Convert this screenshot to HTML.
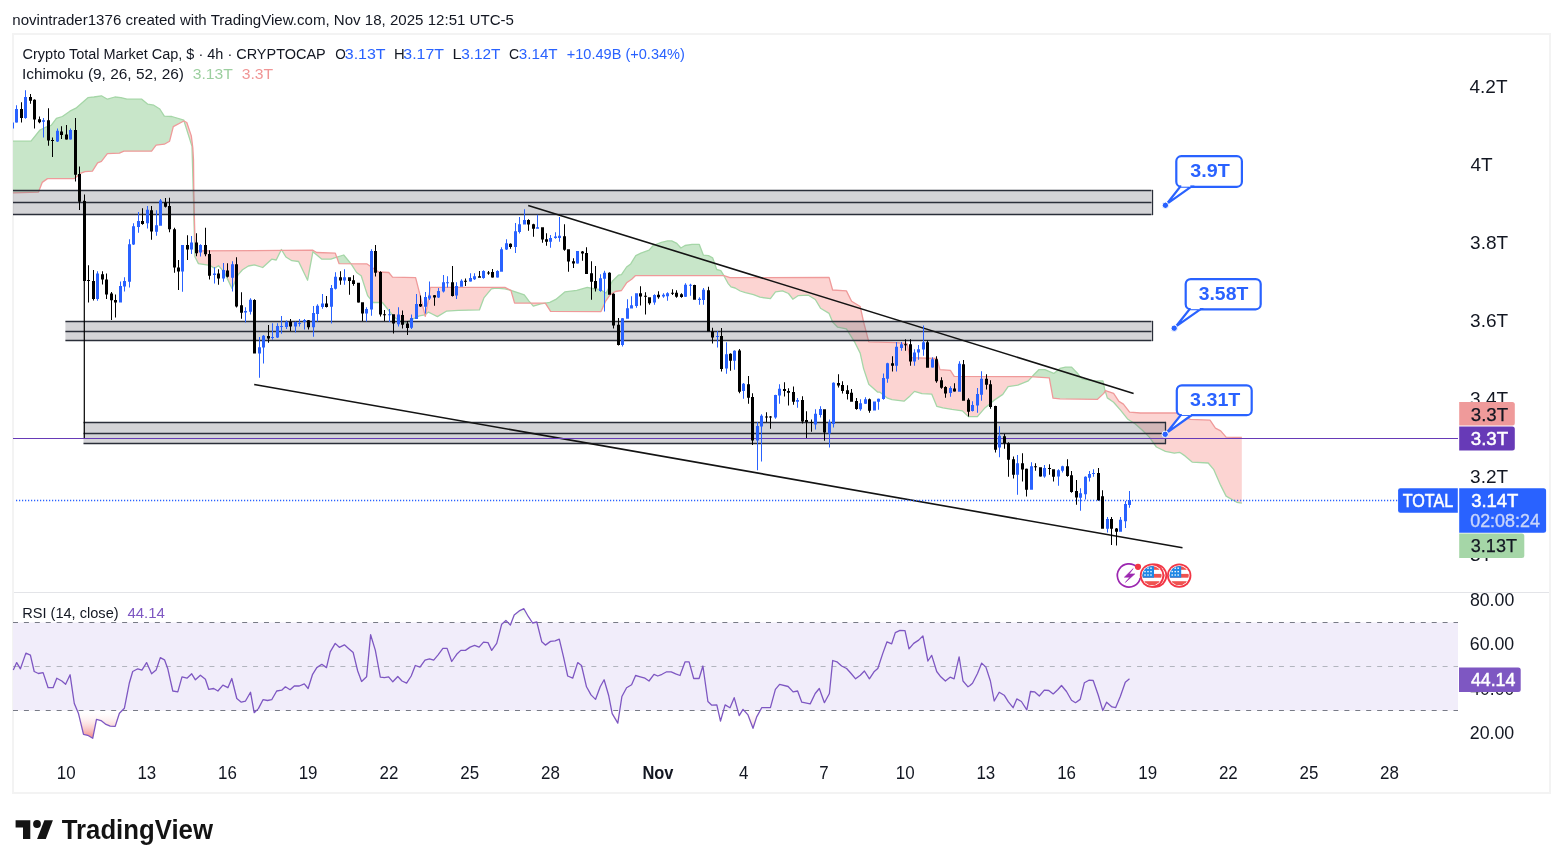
<!DOCTYPE html>
<html><head><meta charset="utf-8"><title>TradingView chart</title>
<style>html,body{margin:0;padding:0;background:#fff;width:1563px;height:868px;overflow:hidden}</style>
</head><body>
<svg width="1563" height="868" viewBox="0 0 1563 868" style="position:absolute;left:0;top:0;will-change:transform">
<rect width="1563" height="868" fill="#ffffff"/>
<text x="12.32" y="24.9" font-family='"Liberation Sans", sans-serif' font-size="15.5" font-weight="normal" fill="#131722" textLength="501.67" lengthAdjust="spacingAndGlyphs">novintrader1376 created with TradingView.com, Nov 18, 2025 12:51 UTC-5</text>
<rect x="13" y="34" width="1537" height="759" fill="none" stroke="#f3f3f3" stroke-width="2"/>
<defs><clipPath id="pane"><rect x="13" y="35" width="1445" height="557"/></clipPath></defs>
<g clip-path="url(#pane)">
<path fill="#c8e6c9" d="M13.00,141.20L13.50,141.20L14.00,141.20L14.50,141.20L15.00,141.20L15.50,141.20L16.00,141.20L16.50,141.20L17.00,141.20L17.50,141.20L18.00,141.20L18.50,141.20L19.00,141.20L19.50,141.20L20.00,141.20L20.50,141.20L21.00,141.20L21.50,141.20L22.00,141.20L22.50,141.20L23.00,141.20L23.50,141.20L24.00,141.20L24.50,141.20L25.00,141.20L25.50,141.20L26.00,141.20L26.50,141.20L27.00,141.20L27.50,141.20L28.00,141.20L28.50,141.20L29.00,141.20L29.50,141.20L30.00,141.20L30.50,141.20L31.00,141.20L31.50,140.58L32.00,139.96L32.50,139.33L33.00,138.71L33.50,138.09L34.00,137.47L34.50,136.84L35.00,136.22L35.50,135.60L36.00,134.98L36.50,134.36L37.00,133.73L37.50,133.11L38.00,132.49L38.50,131.87L39.00,131.24L39.50,130.62L40.00,130.00L40.50,129.77L41.00,129.53L41.50,129.30L42.00,129.07L42.20,128.97L42.50,128.83L43.00,128.60L43.50,128.37L44.00,128.13L44.50,127.90L45.00,127.67L45.50,127.43L46.00,127.20L46.50,127.03L47.00,126.85L47.50,126.68L48.00,126.51L48.50,126.33L49.00,126.16L49.50,125.99L50.00,125.82L50.50,125.64L51.00,125.47L51.20,125.40L51.50,124.99L52.00,124.31L52.50,123.62L53.00,122.94L53.50,122.26L54.00,121.58L54.50,120.89L55.00,120.21L55.50,119.53L56.00,118.85L56.40,118.30L56.50,118.27L57.00,118.12L57.50,117.97L58.00,117.82L58.50,117.67L59.00,117.52L59.50,117.37L60.00,117.22L60.50,117.07L61.00,116.92L61.50,116.77L62.00,116.62L62.40,116.50L62.50,116.43L63.00,116.08L63.50,115.72L64.00,115.37L64.50,115.02L65.00,114.66L65.50,114.31L66.00,113.96L66.50,113.60L67.00,113.25L67.50,112.90L68.00,112.54L68.50,112.19L69.00,111.84L69.50,111.48L69.90,111.20L70.00,111.15L70.50,110.90L71.00,110.65L71.50,110.40L72.00,110.15L72.50,109.90L73.00,109.65L73.50,109.40L74.00,109.15L74.40,108.95L74.50,108.90L75.00,108.65L75.50,108.40L75.90,108.20L76.00,108.11L76.50,107.68L77.00,107.24L77.50,106.80L78.00,106.36L78.50,105.93L79.00,105.49L79.50,105.05L80.00,104.61L80.40,104.26L80.50,104.18L81.00,103.74L81.50,103.30L82.00,102.86L82.50,102.43L83.00,101.99L83.50,101.55L84.00,101.11L84.50,100.68L84.90,100.33L85.00,100.24L85.50,99.80L86.00,99.36L86.50,98.93L87.00,98.49L87.50,98.05L87.90,97.70L88.00,97.69L88.50,97.63L89.00,97.57L89.50,97.51L90.00,97.45L90.50,97.40L91.00,97.34L91.50,97.28L92.00,97.22L92.40,97.17L92.50,97.16L93.00,97.11L93.50,97.05L93.90,97.00L94.00,96.98L94.50,96.90L95.00,96.82L95.50,96.74L96.00,96.66L96.50,96.58L97.00,96.50L97.50,96.42L97.60,96.41L98.00,96.34L98.50,96.26L99.00,96.18L99.50,96.10L100.00,96.02L100.50,95.94L101.00,95.86L101.40,95.80L101.50,95.86L102.00,96.14L102.50,96.42L103.00,96.71L103.50,96.99L104.00,97.27L104.50,97.56L105.00,97.84L105.50,98.12L106.00,98.41L106.50,98.69L107.00,98.97L107.40,99.20L107.50,99.17L108.00,99.02L108.50,98.88L109.00,98.73L109.50,98.58L110.00,98.44L110.50,98.29L111.00,98.14L111.50,98.00L112.00,97.85L112.50,97.70L113.00,97.56L113.50,97.41L114.00,97.26L114.50,97.12L114.90,97.00L115.00,97.01L115.50,97.07L116.00,97.13L116.50,97.19L117.00,97.25L117.50,97.30L118.00,97.36L118.50,97.42L119.00,97.48L119.40,97.53L119.50,97.54L120.00,97.59L120.50,97.65L120.90,97.70L121.00,97.72L121.50,97.85L122.00,97.97L122.50,98.10L123.00,98.22L123.50,98.35L123.90,98.45L124.00,98.47L124.50,98.60L125.00,98.72L125.50,98.85L126.00,98.97L126.50,99.10L126.90,99.20L127.00,99.20L127.50,99.20L128.00,99.20L128.50,99.20L129.00,99.20L129.50,99.20L130.00,99.20L130.50,99.20L131.00,99.20L131.50,99.20L132.00,99.20L132.50,99.20L133.00,99.20L133.50,99.20L134.00,99.20L134.50,99.20L135.00,99.20L135.50,99.20L136.00,99.20L136.50,99.20L137.00,99.20L137.50,99.20L138.00,99.20L138.50,99.20L139.00,99.20L139.50,99.20L140.00,99.20L140.50,99.20L141.00,99.20L141.50,99.20L141.80,99.20L142.00,99.37L142.50,99.78L143.00,100.20L143.50,100.62L144.00,101.03L144.50,101.45L145.00,101.87L145.50,102.28L146.00,102.70L146.50,103.12L147.00,103.53L147.50,103.95L147.80,104.20L148.00,104.23L148.50,104.32L149.00,104.40L149.50,104.48L150.00,104.57L150.50,104.65L151.00,104.73L151.50,104.82L151.60,104.83L152.00,104.90L152.50,104.98L153.00,105.07L153.50,105.15L153.80,105.20L154.00,105.33L154.50,105.64L155.00,105.96L155.50,106.28L156.00,106.59L156.10,106.66L156.50,106.91L157.00,107.23L157.50,107.54L158.00,107.86L158.50,108.18L159.00,108.49L159.50,108.81L159.80,109.00L160.00,109.32L160.50,110.12L161.00,110.92L161.50,111.72L162.00,112.52L162.50,113.32L163.00,114.12L163.50,114.92L164.00,115.72L164.30,116.20L164.50,116.21L165.00,116.23L165.50,116.25L166.00,116.27L166.50,116.29L167.00,116.31L167.50,116.33L168.00,116.35L168.50,116.37L169.00,116.39L169.50,116.41L169.60,116.41L170.00,116.43L170.50,116.45L171.00,116.47L171.50,116.49L171.80,116.50L172.00,116.56L172.50,116.72L173.00,116.87L173.30,116.96L173.50,117.02L174.00,117.18L174.50,117.33L175.00,117.49L175.50,117.64L176.00,117.80L176.50,117.95L177.00,118.10L177.50,118.26L178.00,118.41L178.50,118.57L179.00,118.72L179.50,118.87L180.00,119.03L180.50,119.18L181.00,119.34L181.50,119.49L182.00,119.64L182.50,119.80L183.00,119.95L183.50,120.11L183.80,120.20L184.00,120.84L184.10,121.15L184.10,121.15L184.00,121.10L183.80,121.00L183.50,121.16L183.00,121.43L182.50,121.69L182.00,121.96L181.50,122.23L181.00,122.49L180.50,122.76L180.00,123.03L179.50,123.29L179.00,123.56L178.50,123.83L178.00,124.09L177.50,124.36L177.00,124.63L176.50,124.89L176.00,125.16L175.50,125.43L175.00,125.69L174.50,125.96L174.00,126.23L173.50,126.49L173.30,126.60L173.00,127.78L172.50,129.76L172.00,131.73L171.80,132.52L171.50,133.70L171.00,135.68L170.50,137.65L170.00,139.62L169.60,141.20L169.50,141.26L169.00,141.54L168.50,141.82L168.00,142.11L167.50,142.39L167.00,142.67L166.50,142.95L166.00,143.24L165.50,143.52L165.00,143.80L164.50,144.09L164.30,144.20L164.00,144.24L163.50,144.30L163.00,144.36L162.50,144.42L162.00,144.48L161.50,144.54L161.00,144.60L160.50,144.66L160.00,144.72L159.80,144.75L159.50,144.79L159.00,144.85L158.50,144.91L158.00,144.97L157.50,145.03L157.00,145.09L156.50,145.15L156.10,145.20L156.00,145.33L155.50,146.00L155.00,146.67L154.50,147.33L154.00,148.00L153.80,148.27L153.50,148.67L153.00,149.33L152.50,150.00L152.00,150.67L151.60,151.20L151.50,151.20L151.00,151.20L150.50,151.20L150.00,151.20L149.50,151.20L149.00,151.20L148.50,151.20L148.00,151.20L147.80,151.20L147.50,151.20L147.00,151.20L146.50,151.20L146.00,151.20L145.50,151.20L145.00,151.20L144.50,151.20L144.00,151.20L143.50,151.20L143.00,151.20L142.50,151.20L142.00,151.20L141.80,151.20L141.50,151.20L141.00,151.20L140.50,151.20L140.00,151.20L139.50,151.20L139.00,151.20L138.50,151.20L138.00,151.20L137.50,151.20L137.00,151.20L136.50,151.20L136.00,151.20L135.50,151.20L135.00,151.20L134.50,151.20L134.00,151.20L133.50,151.20L133.00,151.20L132.50,151.20L132.00,151.20L131.50,151.20L131.00,151.20L130.50,151.20L130.00,151.20L129.50,151.20L129.00,151.20L128.50,151.20L128.00,151.20L127.50,151.20L127.00,151.20L126.90,151.20L126.50,151.20L126.00,151.20L125.50,151.20L125.00,151.20L124.50,151.20L124.00,151.20L123.90,151.20L123.50,151.38L123.00,151.60L122.50,151.82L122.00,152.04L121.50,152.27L121.00,152.49L120.90,152.53L120.50,152.71L120.00,152.93L119.50,153.16L119.40,153.20L119.00,153.21L118.50,153.23L118.00,153.25L117.50,153.26L117.00,153.28L116.50,153.30L116.00,153.31L115.50,153.33L115.00,153.35L114.90,153.35L114.50,153.36L114.00,153.38L113.50,153.40L113.00,153.41L112.50,153.43L112.00,153.45L111.50,153.46L111.00,153.48L110.50,153.50L110.00,153.51L109.50,153.53L109.00,153.55L108.50,153.56L108.00,153.58L107.50,153.60L107.40,153.60L107.00,154.12L106.50,154.77L106.00,155.42L105.50,156.07L105.00,156.72L104.50,157.37L104.00,158.02L103.50,158.67L103.00,159.32L102.50,159.97L102.00,160.62L101.50,161.27L101.40,161.40L101.00,161.56L100.50,161.76L100.00,161.95L99.50,162.15L99.00,162.35L98.50,162.54L98.00,162.74L97.60,162.90L97.50,163.06L97.00,163.85L96.50,164.63L96.00,165.42L95.50,166.21L95.00,167.00L94.50,167.79L94.00,168.58L93.90,168.73L93.50,169.37L93.00,170.15L92.50,170.94L92.40,171.10L92.00,171.13L91.50,171.16L91.00,171.19L90.50,171.23L90.00,171.26L89.50,171.29L89.00,171.33L88.50,171.36L88.00,171.39L87.90,171.40L87.50,171.43L87.00,171.46L86.50,171.49L86.00,171.53L85.50,171.56L85.00,171.59L84.90,171.60L84.50,171.76L84.00,171.96L83.50,172.16L83.00,172.36L82.50,172.56L82.00,172.76L81.50,172.96L81.00,173.16L80.50,173.36L80.40,173.40L80.00,173.75L79.50,174.18L79.00,174.61L78.50,175.05L78.00,175.48L77.50,175.91L77.00,176.35L76.50,176.78L76.00,177.21L75.90,177.30L75.50,177.65L75.00,178.08L74.50,178.51L74.40,178.60L74.00,178.60L73.50,178.60L73.00,178.60L72.50,178.60L72.00,178.60L71.50,178.60L71.00,178.60L70.50,178.60L70.00,178.60L69.90,178.60L69.50,178.60L69.00,178.60L68.50,178.60L68.00,178.60L67.50,178.60L67.00,178.60L66.50,178.60L66.00,178.60L65.50,178.60L65.00,178.60L64.50,178.60L64.00,178.60L63.50,178.60L63.00,178.60L62.50,178.60L62.40,178.60L62.00,178.60L61.50,178.60L61.00,178.60L60.50,178.60L60.00,178.60L59.50,178.60L59.00,178.60L58.50,178.60L58.00,178.60L57.50,178.60L57.00,178.60L56.50,178.60L56.40,178.60L56.00,178.60L55.50,178.60L55.00,178.60L54.50,178.60L54.00,178.60L53.50,178.60L53.00,178.60L52.50,178.60L52.00,178.60L51.50,178.60L51.20,178.60L51.00,178.60L50.50,178.60L50.00,178.60L49.50,178.60L49.00,178.60L48.50,178.60L48.00,178.60L47.50,178.60L47.00,178.96L46.50,179.32L46.00,179.68L45.50,180.03L45.00,180.39L44.50,180.75L44.00,181.11L43.50,181.47L43.00,181.83L42.50,182.18L42.20,182.40L42.00,182.92L41.50,184.24L41.00,185.55L40.50,186.86L40.00,188.17L39.50,189.48L39.00,190.79L38.50,192.10L38.00,192.12L37.50,192.13L37.00,192.15L36.50,192.16L36.00,192.18L35.50,192.19L35.00,192.21L34.50,192.23L34.00,192.24L33.50,192.26L33.00,192.27L32.50,192.29L32.00,192.30L31.50,192.32L31.00,192.34L30.50,192.35L30.00,192.37L29.50,192.38L29.00,192.40L28.50,192.41L28.00,192.43L27.50,192.45L27.00,192.46L26.50,192.48L26.00,192.49L25.50,192.51L25.00,192.52L24.50,192.54L24.00,192.55L23.50,192.57L23.00,192.59L22.50,192.60L22.00,192.62L21.50,192.63L21.00,192.65L20.50,192.66L20.00,192.68L19.50,192.70L19.00,192.71L18.50,192.73L18.00,192.74L17.50,192.76L17.00,192.77L16.50,192.79L16.00,192.81L15.50,192.82L15.00,192.84L14.50,192.85L14.00,192.87L13.50,192.88L13.00,192.90ZM280.96,250.39L281.00,250.31L281.40,249.50L281.50,249.67L281.93,250.39L281.93,250.39L281.50,250.39L281.40,250.39L281.00,250.39L280.96,250.39ZM336.76,257.23L337.00,257.15L337.50,256.99L338.00,256.83L338.50,256.67L339.00,256.51L339.10,256.48L339.50,256.35L340.00,256.19L340.50,256.03L341.00,255.87L341.50,255.71L342.00,255.55L342.50,255.39L343.00,255.22L343.50,255.06L343.70,255.00L344.00,255.36L344.50,255.95L345.00,256.55L345.50,257.14L346.00,257.74L346.50,258.33L347.00,258.92L347.50,259.52L348.00,260.11L348.50,260.71L349.00,261.30L349.50,261.90L350.00,262.49L350.50,263.09L351.00,263.68L351.05,263.74L351.05,263.74L351.00,263.74L350.50,263.74L350.00,263.74L349.50,263.74L349.00,263.74L348.50,263.73L348.00,263.73L347.50,263.73L347.00,263.73L346.50,263.73L346.00,263.72L345.50,263.72L345.00,263.72L344.50,263.72L344.00,263.72L343.70,263.72L343.50,263.72L343.00,263.71L342.50,263.71L342.00,263.71L341.50,263.71L341.00,263.71L340.50,263.71L340.00,263.70L339.50,263.70L339.10,263.70L339.00,263.42L338.50,262.04L338.00,260.66L337.50,259.28L337.00,257.90L336.76,257.23ZM424.93,314.80L425.00,314.75L425.30,314.52L425.50,314.37L425.69,314.23L425.69,314.23L425.50,315.23L425.30,316.30L425.00,315.08L424.93,314.80ZM510.90,290.40L510.90,290.40L511.00,290.43L511.50,290.60L512.00,290.77L512.50,290.93L513.00,291.10L513.50,291.27L514.00,291.43L514.50,291.60L514.60,291.63L515.00,291.77L515.50,291.93L516.00,292.10L516.50,292.27L517.00,292.43L517.50,292.60L518.00,292.77L518.50,292.93L519.00,293.10L519.50,293.27L519.90,293.40L520.00,293.43L520.50,293.60L521.00,293.77L521.50,293.95L522.00,294.12L522.50,294.29L523.00,294.46L523.50,294.63L524.00,294.80L524.30,294.90L524.50,295.17L525.00,295.83L525.50,296.50L526.00,297.17L526.50,297.83L527.00,298.50L527.50,299.17L528.00,299.83L528.50,300.50L528.80,300.90L529.00,301.13L529.50,301.71L530.00,302.29L530.50,302.86L530.70,303.10L530.70,303.10L530.50,303.10L530.00,303.10L529.50,303.10L529.00,303.10L528.80,303.10L528.50,303.10L528.00,303.10L527.50,303.10L527.00,303.10L526.50,303.10L526.00,303.10L525.50,303.10L525.00,303.10L524.50,303.10L524.30,303.10L524.00,303.10L523.50,303.10L523.00,303.10L522.50,303.10L522.00,303.10L521.50,303.10L521.00,303.10L520.50,303.10L520.00,303.10L519.90,303.10L519.50,303.10L519.00,303.10L518.50,303.10L518.00,303.10L517.50,303.10L517.00,303.10L516.50,303.10L516.00,303.10L515.50,303.10L515.00,303.10L514.60,303.10L514.50,302.76L514.00,301.04L513.50,299.32L513.00,297.61L512.50,295.89L512.00,294.18L511.50,292.46L511.00,290.74L510.90,290.40L510.90,290.40ZM545.33,303.15L545.50,303.12L546.00,303.03L546.50,302.95L547.00,302.87L547.50,302.78L548.00,302.70L548.50,302.62L549.00,302.53L549.50,302.45L549.80,302.40L550.00,302.30L550.50,302.05L550.60,302.00L551.00,301.80L551.50,301.55L552.00,301.30L552.50,301.05L553.00,300.80L553.50,300.55L554.00,300.30L554.50,300.05L555.00,299.80L555.50,299.55L555.80,299.40L556.00,299.23L556.50,298.82L557.00,298.40L557.50,297.98L558.00,297.57L558.50,297.15L559.00,296.73L559.50,296.32L560.00,295.90L560.50,295.48L561.00,295.07L561.50,294.65L562.00,294.23L562.50,293.82L563.00,293.40L563.50,292.98L564.00,292.57L564.50,292.15L564.80,291.90L565.00,291.88L565.50,291.81L566.00,291.75L566.50,291.69L567.00,291.62L567.50,291.56L568.00,291.50L568.50,291.44L569.00,291.38L569.50,291.31L570.00,291.25L570.50,291.19L571.00,291.12L571.50,291.06L572.00,291.00L572.50,290.94L573.00,290.88L573.50,290.81L574.00,290.75L574.50,290.69L575.00,290.62L575.50,290.56L576.00,290.50L576.50,290.44L576.80,290.40L577.00,290.34L577.50,290.20L578.00,290.06L578.50,289.91L579.00,289.77L579.50,289.63L580.00,289.49L580.50,289.34L581.00,289.20L581.50,289.06L582.00,288.91L582.50,288.77L583.00,288.63L583.50,288.49L584.00,288.34L584.50,288.20L585.00,288.06L585.50,287.91L586.00,287.77L586.50,287.63L587.00,287.49L587.30,287.40L587.50,287.44L588.00,287.55L588.50,287.65L589.00,287.75L589.50,287.86L590.00,287.96L590.50,288.06L591.00,288.17L591.50,288.27L592.00,288.38L592.50,288.48L593.00,288.58L593.50,288.69L594.00,288.79L594.50,288.90L595.00,289.00L595.50,289.05L596.00,289.10L596.50,289.15L597.00,289.20L597.50,289.25L598.00,289.30L598.50,289.35L599.00,289.40L599.50,289.45L600.00,289.50L600.50,289.80L601.00,290.09L601.50,290.39L602.00,290.68L602.50,290.98L603.00,291.27L603.50,291.57L604.00,291.86L604.50,292.16L605.00,292.45L605.50,292.75L606.00,293.04L606.10,293.10L606.50,292.34L607.00,291.39L607.50,290.44L608.00,289.48L608.50,288.53L609.00,287.58L609.50,286.63L610.00,285.68L610.20,285.30L610.50,284.73L611.00,283.77L611.50,282.82L612.00,281.87L612.30,281.30L612.50,281.10L613.00,280.60L613.50,280.10L614.00,279.60L614.50,279.10L615.00,278.60L615.40,278.20L615.50,278.10L616.00,277.60L616.50,277.10L617.00,276.60L617.50,276.10L618.00,275.60L618.40,275.20L618.50,275.18L619.00,275.08L619.50,274.99L620.00,274.89L620.50,274.79L621.00,274.70L621.50,274.60L622.00,273.85L622.50,273.11L623.00,272.36L623.50,271.62L624.00,270.87L624.50,270.13L625.00,269.38L625.50,268.64L626.00,267.89L626.50,267.15L626.60,267.00L627.00,266.70L627.50,266.32L628.00,265.94L628.50,265.56L629.00,265.19L629.50,264.81L630.00,264.43L630.50,264.05L630.70,263.90L631.00,263.42L631.50,262.61L631.70,262.29L632.00,261.81L632.50,261.01L633.00,260.20L633.50,259.40L634.00,258.59L634.50,257.79L635.00,256.99L635.30,256.50L635.50,256.18L635.80,255.70L636.00,255.60L636.50,255.36L637.00,255.11L637.50,254.87L638.00,254.62L638.50,254.38L639.00,254.13L639.50,253.89L640.00,253.64L640.50,253.40L640.90,253.20L641.00,253.16L641.50,252.97L642.00,252.78L642.50,252.60L643.00,252.41L643.50,252.22L644.00,252.03L644.50,251.84L645.00,251.65L645.50,251.46L646.00,251.27L646.50,251.08L647.00,250.89L647.50,250.70L648.00,250.52L648.50,250.33L649.00,250.14L649.10,250.10L649.50,249.65L650.00,249.09L650.50,248.53L651.00,247.97L651.50,247.41L652.00,246.85L652.50,246.29L653.00,245.72L653.20,245.50L653.50,245.39L654.00,245.20L654.50,245.01L655.00,244.82L655.50,244.63L656.00,244.44L656.50,244.25L657.00,244.06L657.50,243.87L658.00,243.69L658.50,243.50L659.00,243.31L659.50,243.12L660.00,242.93L660.50,242.74L661.00,242.55L661.40,242.40L661.50,242.38L662.00,242.25L662.50,242.13L663.00,242.01L663.50,241.89L664.00,241.77L664.50,241.65L665.00,241.53L665.50,241.41L666.00,241.29L666.50,241.17L667.00,241.05L667.50,240.92L667.60,240.90L668.00,240.90L668.50,240.90L669.00,240.90L669.50,240.90L670.00,240.90L670.50,240.90L671.00,240.90L671.50,240.90L671.70,240.90L672.00,241.05L672.50,241.29L673.00,241.54L673.50,241.78L674.00,242.03L674.50,242.27L675.00,242.52L675.50,242.76L676.00,243.01L676.50,243.25L676.80,243.40L677.00,243.62L677.50,244.19L678.00,244.75L678.50,245.31L679.00,245.87L679.50,246.43L680.00,246.99L680.50,247.55L680.90,248.00L681.00,247.94L681.50,247.63L682.00,247.33L682.50,247.02L683.00,246.72L683.50,246.41L684.00,246.11L684.50,245.80L685.00,245.50L685.50,245.42L686.00,245.35L686.50,245.27L687.00,245.19L687.50,245.11L688.00,245.04L688.50,244.96L689.00,244.88L689.50,244.80L690.00,244.73L690.50,244.65L691.00,244.57L691.50,244.49L692.00,244.42L692.10,244.40L692.50,244.40L693.00,244.40L693.50,244.40L694.00,244.40L694.50,244.40L695.00,244.40L695.50,244.40L696.00,244.40L696.50,244.40L697.00,244.40L697.50,244.40L698.00,244.40L698.50,244.40L699.00,244.40L699.30,244.40L699.50,244.93L700.00,246.24L700.50,247.56L701.00,248.88L701.50,250.20L702.00,251.51L702.50,252.83L703.00,254.15L703.40,255.20L703.50,255.21L704.00,255.26L704.50,255.31L705.00,255.36L705.50,255.41L706.00,255.45L706.50,255.50L707.00,255.55L707.50,255.60L708.00,255.65L708.50,255.70L709.00,255.96L709.50,256.21L710.00,256.47L710.50,256.72L711.00,256.98L711.50,257.24L712.00,257.49L712.50,257.75L712.60,257.80L713.00,258.94L713.50,260.37L714.00,261.80L714.50,263.22L715.00,264.65L715.50,266.08L716.00,267.50L716.50,268.93L716.70,269.50L717.00,269.58L717.50,269.71L718.00,269.85L718.50,269.98L719.00,270.12L719.50,270.25L720.00,270.39L720.50,270.52L720.80,270.60L721.00,270.93L721.50,271.75L722.00,272.57L722.50,273.40L723.00,274.22L723.50,275.04L723.90,275.70L723.90,275.70L723.90,275.70L723.90,275.70L723.50,275.70L723.00,275.70L722.50,275.70L722.00,275.70L721.50,275.70L721.00,275.70L720.80,275.70L720.50,275.70L720.00,275.70L719.50,275.70L719.00,275.70L718.50,275.70L718.00,275.70L717.50,275.70L717.00,275.70L716.70,275.70L716.50,275.70L716.00,275.70L715.50,275.70L715.00,275.70L714.50,275.70L714.00,275.70L713.50,275.70L713.00,275.70L712.60,275.70L712.50,275.70L712.00,275.70L711.50,275.70L711.00,275.70L710.50,275.70L710.00,275.70L709.50,275.70L709.00,275.70L708.50,275.70L708.00,275.70L707.50,275.70L707.00,275.70L706.50,275.70L706.00,275.70L705.50,275.70L705.00,275.70L704.50,275.70L704.00,275.70L703.50,275.70L703.40,275.70L703.00,275.70L702.50,275.70L702.00,275.70L701.50,275.70L701.00,275.70L700.50,275.70L700.00,275.70L699.50,275.70L699.30,275.70L699.00,275.70L698.50,275.70L698.00,275.70L697.50,275.70L697.00,275.70L696.50,275.70L696.00,275.70L695.50,275.70L695.00,275.70L694.50,275.70L694.00,275.70L693.50,275.70L693.00,275.70L692.50,275.70L692.10,275.70L692.00,275.70L691.50,275.70L691.00,275.70L690.50,275.70L690.00,275.70L689.50,275.70L689.00,275.70L688.50,275.70L688.00,275.70L687.50,275.70L687.00,275.70L686.50,275.70L686.00,275.70L685.50,275.70L685.00,275.70L684.50,275.70L684.00,275.70L683.50,275.70L683.00,275.70L682.50,275.70L682.00,275.70L681.50,275.70L681.00,275.70L680.90,275.70L680.50,275.70L680.00,275.70L679.50,275.70L679.00,275.70L678.50,275.70L678.00,275.70L677.50,275.70L677.00,275.70L676.80,275.70L676.50,275.70L676.00,275.70L675.50,275.70L675.00,275.70L674.50,275.70L674.00,275.70L673.50,275.70L673.00,275.70L672.50,275.70L672.00,275.70L671.70,275.70L671.50,275.70L671.00,275.70L670.50,275.70L670.00,275.70L669.50,275.70L669.00,275.70L668.50,275.70L668.00,275.70L667.60,275.70L667.50,275.70L667.00,275.70L666.50,275.70L666.00,275.70L665.50,275.70L665.00,275.70L664.50,275.70L664.00,275.70L663.50,275.70L663.00,275.70L662.50,275.70L662.00,275.70L661.50,275.70L661.40,275.70L661.00,275.70L660.50,275.70L660.00,275.70L659.50,275.70L659.00,275.70L658.50,275.70L658.00,275.70L657.50,275.70L657.00,275.70L656.50,275.70L656.00,275.70L655.50,275.70L655.00,275.70L654.50,275.70L654.00,275.70L653.50,275.70L653.20,275.70L653.00,275.70L652.50,275.70L652.00,275.70L651.50,275.70L651.00,275.70L650.50,275.70L650.00,275.70L649.50,275.70L649.10,275.70L649.00,275.70L648.50,275.70L648.00,275.70L647.50,275.70L647.00,275.70L646.50,275.70L646.00,275.70L645.50,275.70L645.00,275.70L644.50,275.70L644.00,275.70L643.50,275.70L643.00,275.70L642.50,275.70L642.00,275.70L641.50,275.70L641.00,275.70L640.90,275.70L640.50,275.70L640.00,275.70L639.50,275.70L639.00,275.70L638.50,275.70L638.00,275.70L637.50,275.70L637.00,275.70L636.50,275.70L636.00,275.70L635.80,275.70L635.50,275.70L635.30,275.70L635.00,276.00L634.50,276.50L634.00,277.00L633.50,277.50L633.00,278.00L632.50,278.50L632.00,279.00L631.70,279.30L631.50,279.44L631.00,279.78L630.70,279.99L630.50,280.12L630.00,280.47L629.50,280.81L629.00,281.15L628.50,281.50L628.00,281.84L627.50,282.18L627.00,282.53L626.60,282.80L626.50,282.95L626.00,283.71L625.50,284.46L625.00,285.22L624.50,285.97L624.00,286.73L623.50,287.48L623.00,288.24L622.50,288.99L622.00,289.75L621.50,290.50L621.00,290.58L620.50,290.66L620.00,290.75L619.50,290.83L619.00,290.91L618.50,290.99L618.40,291.01L618.00,291.07L617.50,291.16L617.00,291.24L616.50,291.32L616.00,291.40L615.50,291.48L615.40,291.50L615.00,291.74L614.50,292.04L614.00,292.33L613.50,292.63L613.00,292.93L612.50,293.23L612.30,293.35L612.00,293.53L611.50,293.83L611.00,294.12L610.50,294.42L610.20,294.60L610.00,294.89L609.50,295.61L609.00,296.34L608.50,297.06L608.00,297.78L607.50,298.51L607.00,299.23L606.50,299.95L606.10,300.53L606.00,300.68L605.50,301.40L605.00,302.53L604.50,303.67L604.00,304.80L603.50,305.93L603.00,307.07L602.50,308.20L602.00,309.33L601.50,310.47L601.00,311.60L600.50,311.60L600.00,311.60L599.50,311.59L599.00,311.59L598.50,311.59L598.00,311.59L597.50,311.59L597.00,311.58L596.50,311.58L596.00,311.58L595.50,311.58L595.00,311.58L594.50,311.57L594.00,311.57L593.50,311.57L593.00,311.57L592.50,311.57L592.00,311.56L591.50,311.56L591.00,311.56L590.50,311.56L590.00,311.56L589.50,311.55L589.00,311.55L588.50,311.55L588.00,311.55L587.50,311.55L587.30,311.55L587.00,311.54L586.50,311.54L586.00,311.54L585.50,311.54L585.00,311.54L584.50,311.53L584.00,311.53L583.50,311.53L583.00,311.53L582.50,311.53L582.00,311.52L581.50,311.52L581.00,311.52L580.50,311.52L580.00,311.52L579.50,311.51L579.00,311.51L578.50,311.51L578.00,311.51L577.50,311.51L577.00,311.50L576.80,311.50L576.50,311.50L576.00,311.50L575.50,311.50L575.00,311.50L574.50,311.49L574.00,311.49L573.50,311.49L573.00,311.49L572.50,311.49L572.00,311.48L571.50,311.48L571.00,311.48L570.50,311.48L570.00,311.48L569.50,311.47L569.00,311.47L568.50,311.47L568.00,311.47L567.50,311.47L567.00,311.47L566.50,311.46L566.00,311.46L565.50,311.46L565.00,311.46L564.80,311.46L564.50,311.46L564.00,311.45L563.50,311.45L563.00,311.45L562.50,311.45L562.00,311.45L561.50,311.44L561.00,311.44L560.50,311.44L560.00,311.44L559.50,311.44L559.00,311.43L558.50,311.43L558.00,311.43L557.50,311.43L557.00,311.43L556.50,311.42L556.00,311.42L555.80,311.42L555.50,311.42L555.00,311.42L554.50,311.42L554.00,311.41L553.50,311.41L553.00,311.41L552.50,311.41L552.00,311.41L551.50,311.40L551.00,311.40L550.60,311.40L550.50,311.24L550.00,310.46L549.80,310.15L549.50,309.68L549.00,308.89L548.50,308.11L548.00,307.33L547.50,306.55L547.00,305.76L546.50,304.98L546.00,304.20L545.50,303.41L545.33,303.15ZM1031.94,376.83L1032.00,376.77L1032.50,376.21L1033.00,375.65L1033.50,375.09L1034.00,374.53L1034.30,374.20L1034.50,374.00L1035.00,373.50L1035.50,373.00L1036.00,372.50L1036.50,372.00L1037.00,371.50L1037.50,371.00L1038.00,370.50L1038.50,370.00L1038.80,369.70L1039.00,369.70L1039.50,369.70L1040.00,369.70L1040.50,369.70L1041.00,369.70L1041.50,369.70L1042.00,369.70L1042.50,369.70L1043.00,369.70L1043.50,369.70L1044.00,369.70L1044.50,369.70L1044.80,369.70L1045.00,369.78L1045.50,369.99L1046.00,370.19L1046.50,370.40L1047.00,370.60L1047.50,370.81L1048.00,371.02L1048.50,371.22L1049.00,371.43L1049.30,371.55L1049.50,371.63L1050.00,371.84L1050.50,372.04L1051.00,372.25L1051.50,372.45L1052.00,372.66L1052.50,372.87L1053.00,373.07L1053.50,373.28L1053.80,373.40L1054.00,373.24L1054.50,372.84L1055.00,372.43L1055.50,372.03L1056.00,371.63L1056.50,371.22L1057.00,370.82L1057.50,370.42L1058.00,370.01L1058.50,369.61L1059.00,369.21L1059.50,368.80L1060.00,368.40L1060.50,368.28L1061.00,368.16L1061.50,368.04L1062.00,367.92L1062.50,367.80L1063.00,367.68L1063.50,367.56L1064.00,367.44L1064.50,367.32L1065.00,367.20L1065.40,367.10L1065.50,367.10L1066.00,367.10L1066.50,367.10L1067.00,367.10L1067.50,367.10L1068.00,367.10L1068.50,367.10L1069.00,367.10L1069.50,367.10L1070.00,367.10L1070.50,367.10L1071.00,367.10L1071.50,367.10L1071.60,367.10L1072.00,367.53L1072.50,368.06L1073.00,368.59L1073.50,369.12L1074.00,369.65L1074.50,370.18L1075.00,370.72L1075.50,371.25L1076.00,371.78L1076.50,372.31L1077.00,372.84L1077.50,373.37L1077.90,373.80L1078.00,373.92L1078.50,374.52L1079.00,375.12L1079.50,375.73L1080.00,376.33L1080.50,376.93L1081.00,377.53L1081.50,378.14L1082.00,378.74L1082.30,379.10L1082.50,379.13L1083.00,379.19L1083.50,379.26L1084.00,379.33L1084.50,379.40L1085.00,379.46L1085.50,379.53L1086.00,379.60L1086.50,379.66L1087.00,379.73L1087.50,379.80L1088.00,379.87L1088.50,379.93L1089.00,380.00L1089.50,380.07L1090.00,380.13L1090.50,380.20L1091.00,380.27L1091.50,380.34L1092.00,380.40L1092.50,380.47L1093.00,380.54L1093.50,380.60L1094.00,380.67L1094.50,380.74L1095.00,380.81L1095.50,380.87L1095.70,380.90L1096.00,380.90L1096.50,380.90L1097.00,380.90L1097.50,380.90L1098.00,380.90L1098.50,380.90L1099.00,380.90L1099.50,380.90L1100.00,380.90L1100.50,380.90L1101.00,380.90L1101.50,380.90L1102.00,380.90L1102.50,380.90L1102.90,380.90L1103.00,381.37L1103.50,383.72L1103.80,385.14L1104.00,386.08L1104.50,388.43L1104.60,388.90L1105.00,390.23L1105.26,391.09L1105.26,391.09L1105.00,391.49L1104.60,392.13L1104.50,392.29L1104.00,393.08L1103.80,393.40L1103.50,393.68L1103.00,394.15L1102.90,394.24L1102.50,394.62L1102.00,395.09L1101.50,395.55L1101.00,396.02L1100.50,396.49L1100.00,396.96L1099.50,397.43L1099.00,397.90L1098.50,398.36L1098.00,398.83L1097.50,399.30L1097.00,399.29L1096.50,399.29L1096.00,399.28L1095.70,399.28L1095.50,399.27L1095.00,399.27L1094.50,399.26L1094.00,399.25L1093.50,399.25L1093.00,399.24L1092.50,399.23L1092.00,399.23L1091.50,399.22L1091.00,399.21L1090.50,399.21L1090.00,399.20L1089.50,399.19L1089.00,399.19L1088.50,399.18L1088.00,399.17L1087.50,399.17L1087.00,399.16L1086.50,399.15L1086.00,399.15L1085.50,399.14L1085.00,399.13L1084.50,399.13L1084.00,399.12L1083.50,399.11L1083.00,399.11L1082.50,399.10L1082.30,399.10L1082.00,399.09L1081.50,399.09L1081.00,399.08L1080.50,399.07L1080.00,399.07L1079.50,399.06L1079.00,399.05L1078.50,399.05L1078.00,399.04L1077.90,399.04L1077.50,399.03L1077.00,399.03L1076.50,399.02L1076.00,399.01L1075.50,399.01L1075.00,399.00L1074.50,398.99L1074.00,398.99L1073.50,398.98L1073.00,398.97L1072.50,398.97L1072.00,398.96L1071.60,398.95L1071.50,398.95L1071.00,398.95L1070.50,398.94L1070.00,398.93L1069.50,398.93L1069.00,398.92L1068.50,398.91L1068.00,398.91L1067.50,398.90L1067.00,398.89L1066.50,398.89L1066.00,398.88L1065.50,398.87L1065.40,398.87L1065.00,398.87L1064.50,398.86L1064.00,398.85L1063.50,398.85L1063.00,398.84L1062.50,398.83L1062.00,398.83L1061.50,398.82L1061.00,398.81L1060.50,398.81L1060.00,398.80L1059.50,398.76L1059.00,398.71L1058.50,398.67L1058.00,398.63L1057.50,398.59L1057.00,398.54L1056.50,398.50L1056.00,398.46L1055.50,398.41L1055.00,398.37L1054.50,398.33L1054.00,398.29L1053.80,398.27L1053.50,398.24L1053.00,398.20L1052.50,395.46L1052.00,392.71L1051.50,389.97L1051.00,387.23L1050.50,384.48L1050.00,381.74L1049.50,379.00L1049.30,377.90L1049.00,377.88L1048.50,377.85L1048.00,377.82L1047.50,377.79L1047.00,377.76L1046.50,377.73L1046.00,377.70L1045.50,377.67L1045.00,377.64L1044.80,377.62L1044.50,377.60L1044.00,377.57L1043.50,377.54L1043.00,377.51L1042.50,377.48L1042.00,377.45L1041.50,377.42L1041.00,377.39L1040.50,377.36L1040.00,377.33L1039.50,377.30L1039.00,377.27L1038.80,377.25L1038.50,377.24L1038.00,377.20L1037.50,377.17L1037.00,377.14L1036.50,377.11L1036.00,377.08L1035.50,377.05L1035.00,377.02L1034.50,376.99L1034.30,376.98L1034.00,376.96L1033.50,376.93L1033.00,376.90L1032.50,376.87L1032.00,376.84L1031.94,376.83Z"/><path fill="#fcd4d2" d="M184.10,121.15L184.50,122.44L185.00,124.03L185.50,125.63L186.00,127.23L186.50,128.83L186.80,129.79L187.00,130.42L187.50,132.02L188.00,133.62L188.50,135.22L189.00,136.81L189.50,138.41L190.00,140.01L190.50,141.61L191.00,143.20L191.30,144.16L191.50,144.80L192.00,146.40L192.50,164.27L192.80,174.99L193.00,182.13L193.50,200.00L193.80,212.15L194.00,220.25L194.50,240.50L194.90,256.70L195.00,256.90L195.50,257.88L196.00,258.87L196.10,259.07L196.50,259.85L197.00,260.84L197.50,261.83L198.00,262.81L198.40,263.60L198.50,263.62L199.00,263.69L199.50,263.77L200.00,263.85L200.50,263.93L201.00,264.01L201.50,264.09L202.00,264.16L202.50,264.24L203.00,264.32L203.50,264.40L204.00,264.48L204.50,264.55L205.00,264.63L205.50,264.71L206.00,264.79L206.50,264.87L207.00,264.95L207.50,265.02L208.00,265.10L208.50,265.18L209.00,265.26L209.50,265.34L209.90,265.40L210.00,265.46L210.50,265.77L211.00,266.07L211.50,266.37L212.00,266.68L212.50,266.98L213.00,267.29L213.50,267.59L214.00,267.90L214.50,268.20L215.00,267.89L215.50,267.57L216.00,267.26L216.50,266.95L217.00,266.64L217.50,266.32L218.00,266.01L218.50,265.70L219.00,266.28L219.50,266.87L220.00,267.45L220.50,268.03L221.00,268.62L221.50,269.20L222.00,269.78L222.50,270.37L223.00,270.95L223.50,271.53L224.00,272.12L224.50,272.70L225.00,273.75L225.50,274.79L226.00,275.84L226.50,276.89L227.00,277.93L227.50,278.98L228.00,280.03L228.50,281.07L229.00,282.12L229.50,283.17L230.00,284.21L230.50,285.26L231.00,286.31L231.50,287.35L232.00,288.40L232.50,287.27L233.00,286.15L233.50,285.02L234.00,283.90L234.50,282.77L235.00,281.65L235.50,280.52L236.00,279.40L236.50,278.27L237.00,277.15L237.50,276.02L238.00,274.90L238.50,274.32L239.00,273.74L239.50,273.17L240.00,272.59L240.50,272.01L241.00,271.43L241.50,270.86L242.00,270.28L242.50,269.70L243.00,269.39L243.50,269.07L244.00,268.76L244.50,268.45L245.00,268.13L245.50,267.82L246.00,267.51L246.50,267.19L247.00,266.88L247.50,266.56L248.00,266.25L248.40,266.00L248.50,265.98L249.00,265.88L249.50,265.78L250.00,265.68L250.50,265.58L251.00,265.48L251.50,265.38L252.00,265.28L252.50,265.18L253.00,265.08L253.50,264.98L254.00,264.88L254.40,264.80L254.50,264.83L255.00,265.00L255.50,265.16L256.00,265.32L256.50,265.48L257.00,265.65L257.50,265.81L258.00,265.97L258.50,266.13L259.00,266.30L259.50,266.46L260.00,266.62L260.50,266.78L261.00,266.95L261.50,267.11L262.00,267.27L262.50,267.43L262.70,267.50L263.00,267.22L263.50,266.76L264.00,266.30L264.50,265.84L265.00,265.38L265.50,264.92L266.00,264.46L266.50,264.00L267.00,263.53L267.50,263.07L268.00,262.61L268.50,262.15L269.00,261.69L269.50,261.23L270.00,260.77L270.50,260.31L271.00,259.85L271.50,259.38L271.70,259.20L272.00,259.25L272.50,259.34L273.00,259.43L273.50,259.52L274.00,259.61L274.50,259.70L275.00,259.79L275.50,259.88L276.00,259.96L276.20,260.00L276.50,259.39L277.00,258.38L277.50,257.38L278.00,256.37L278.50,255.36L279.00,254.35L279.50,253.34L280.00,252.33L280.50,251.32L280.96,250.39L280.96,250.39L280.50,250.39L280.00,250.40L279.50,250.40L279.00,250.40L278.50,250.41L278.00,250.41L277.50,250.41L277.00,250.42L276.50,250.42L276.20,250.42L276.00,250.42L275.50,250.42L275.00,250.43L274.50,250.43L274.00,250.43L273.50,250.44L273.00,250.44L272.50,250.44L272.00,250.45L271.70,250.45L271.50,250.45L271.00,250.45L270.50,250.45L270.00,250.46L269.50,250.46L269.00,250.46L268.50,250.47L268.00,250.47L267.50,250.47L267.00,250.48L266.50,250.48L266.00,250.48L265.50,250.48L265.00,250.49L264.50,250.49L264.00,250.49L263.50,250.50L263.00,250.50L262.70,250.50L262.50,250.50L262.00,250.51L261.50,250.51L261.00,250.51L260.50,250.51L260.00,250.52L259.50,250.52L259.00,250.52L258.50,250.53L258.00,250.53L257.50,250.53L257.00,250.54L256.50,250.54L256.00,250.54L255.50,250.54L255.00,250.55L254.50,250.55L254.40,250.55L254.00,250.55L253.50,250.56L253.00,250.56L252.50,250.56L252.00,250.56L251.50,250.57L251.00,250.57L250.50,250.57L250.00,250.58L249.50,250.58L249.00,250.58L248.50,250.59L248.40,250.59L248.00,250.59L247.50,250.59L247.00,250.59L246.50,250.60L246.00,250.60L245.50,250.60L245.00,250.61L244.50,250.61L244.00,250.61L243.50,250.62L243.00,250.62L242.50,250.62L242.00,250.62L241.50,250.63L241.00,250.63L240.50,250.63L240.00,250.64L239.50,250.64L239.00,250.64L238.50,250.65L238.00,250.65L237.50,250.65L237.00,250.65L236.50,250.66L236.00,250.66L235.50,250.66L235.00,250.67L234.50,250.67L234.00,250.67L233.50,250.68L233.00,250.68L232.50,250.68L232.00,250.68L231.50,250.69L231.00,250.69L230.50,250.69L230.00,250.70L229.50,250.70L229.00,250.70L228.50,250.71L228.00,250.71L227.50,250.71L227.00,250.71L226.50,250.72L226.00,250.72L225.50,250.72L225.00,250.73L224.50,250.73L224.00,250.73L223.50,250.74L223.00,250.74L222.50,250.74L222.00,250.74L221.50,250.75L221.00,250.75L220.50,250.75L220.00,250.76L219.50,250.76L219.00,250.76L218.50,250.77L218.00,250.77L217.50,250.77L217.00,250.77L216.50,250.78L216.00,250.78L215.50,250.78L215.00,250.79L214.50,250.79L214.00,250.79L213.50,250.80L213.00,250.80L212.50,250.80L212.00,250.80L211.50,250.81L211.00,250.81L210.50,250.81L210.00,250.82L209.90,250.82L209.50,250.82L209.00,250.82L208.50,250.83L208.00,250.83L207.50,250.83L207.00,250.83L206.50,250.84L206.00,250.84L205.50,250.84L205.00,250.85L204.50,250.85L204.00,250.85L203.50,250.86L203.00,250.86L202.50,250.86L202.00,250.86L201.50,250.87L201.00,250.87L200.50,250.87L200.00,250.88L199.50,250.88L199.00,250.88L198.50,250.89L198.40,250.89L198.00,250.89L197.50,250.89L197.00,250.89L196.50,250.90L196.10,250.90L196.00,249.84L195.50,244.55L195.00,239.26L194.90,238.20L194.50,221.47L194.00,200.56L193.80,192.20L193.50,160.00L193.00,151.36L192.80,147.90L192.50,145.50L192.00,141.50L191.50,137.50L191.30,135.90L191.00,135.01L190.50,133.52L190.00,132.03L189.50,130.54L189.00,129.05L188.50,127.56L188.00,126.07L187.50,124.58L187.00,123.10L186.80,122.50L186.50,122.35L186.00,122.10L185.50,121.85L185.00,121.60L184.50,121.35L184.10,121.15ZM281.93,250.39L282.00,250.50L282.50,251.33L283.00,252.17L283.50,253.00L284.00,253.83L284.50,254.67L285.00,255.50L285.50,256.33L285.90,257.00L286.00,257.06L286.50,257.37L287.00,257.68L287.50,257.99L288.00,258.30L288.50,258.60L289.00,258.91L289.50,259.22L290.00,259.53L290.50,259.84L291.00,260.14L291.50,260.45L291.90,260.70L292.00,260.71L292.50,260.77L293.00,260.83L293.50,260.89L294.00,260.95L294.50,261.01L295.00,261.07L295.50,261.13L296.00,261.19L296.50,261.25L297.00,261.31L297.50,261.37L298.00,261.43L298.50,261.49L298.60,261.50L299.00,262.33L299.50,263.37L300.00,264.41L300.50,265.45L301.00,266.49L301.50,267.53L302.00,268.56L302.50,269.60L303.00,270.64L303.50,271.68L304.00,272.72L304.50,273.76L305.00,274.80L305.50,275.84L306.00,276.88L306.50,277.91L307.00,278.95L307.50,279.99L307.60,280.20L308.00,278.05L308.50,275.36L309.00,272.67L309.50,269.98L310.00,267.29L310.50,264.61L311.00,261.92L311.50,259.23L312.00,256.54L312.50,253.85L312.90,251.70L313.00,251.78L313.50,252.20L314.00,252.62L314.50,253.03L315.00,253.45L315.50,253.87L316.00,254.28L316.50,254.70L316.60,254.78L317.00,255.12L317.50,255.53L318.00,255.95L318.50,256.37L319.00,256.78L319.50,257.20L320.00,257.62L320.50,258.03L321.00,258.45L321.50,258.87L321.90,259.20L322.00,259.20L322.50,259.20L323.00,259.20L323.50,259.20L324.00,259.20L324.50,259.20L325.00,259.20L325.50,259.20L326.00,259.20L326.50,259.20L327.00,259.20L327.50,259.20L328.00,259.20L328.50,259.20L329.00,259.20L329.50,259.20L330.00,259.20L330.50,259.20L330.80,259.20L331.00,259.13L331.50,258.97L332.00,258.80L332.50,258.63L333.00,258.47L333.50,258.30L334.00,258.13L334.50,257.97L335.00,257.80L335.30,257.70L335.50,257.64L336.00,257.47L336.50,257.31L336.76,257.23L336.76,257.23L336.50,256.52L336.00,255.13L335.50,253.75L335.30,253.20L335.00,253.19L334.50,253.17L334.00,253.15L333.50,253.13L333.00,253.11L332.50,253.10L332.00,253.08L331.50,253.06L331.00,253.04L330.80,253.03L330.50,253.02L330.00,253.00L329.50,252.98L329.00,252.96L328.50,252.95L328.00,252.93L327.50,252.91L327.00,252.89L326.50,252.87L326.00,252.85L325.50,252.83L325.00,252.81L324.50,252.80L324.00,252.78L323.50,252.76L323.00,252.74L322.50,252.72L322.00,252.70L321.90,252.70L321.50,252.68L321.00,252.66L320.50,252.65L320.00,252.63L319.50,252.61L319.00,252.59L318.50,252.57L318.00,252.55L317.50,252.53L317.00,252.51L316.60,252.50L316.50,252.44L316.00,252.13L315.50,251.82L315.00,251.51L314.50,251.19L314.00,250.88L313.50,250.57L313.00,250.26L312.90,250.20L312.50,250.20L312.00,250.21L311.50,250.21L311.00,250.21L310.50,250.21L310.00,250.22L309.50,250.22L309.00,250.22L308.50,250.23L308.00,250.23L307.60,250.23L307.50,250.23L307.00,250.24L306.50,250.24L306.00,250.24L305.50,250.24L305.00,250.25L304.50,250.25L304.00,250.25L303.50,250.26L303.00,250.26L302.50,250.26L302.00,250.27L301.50,250.27L301.00,250.27L300.50,250.27L300.00,250.28L299.50,250.28L299.00,250.28L298.60,250.29L298.50,250.29L298.00,250.29L297.50,250.29L297.00,250.30L296.50,250.30L296.00,250.30L295.50,250.30L295.00,250.31L294.50,250.31L294.00,250.31L293.50,250.32L293.00,250.32L292.50,250.32L292.00,250.33L291.90,250.33L291.50,250.33L291.00,250.33L290.50,250.33L290.00,250.34L289.50,250.34L289.00,250.34L288.50,250.35L288.00,250.35L287.50,250.35L287.00,250.36L286.50,250.36L286.00,250.36L285.90,250.36L285.50,250.36L285.00,250.37L284.50,250.37L284.00,250.37L283.50,250.38L283.00,250.38L282.50,250.38L282.00,250.39L281.93,250.39ZM351.05,263.74L351.10,263.80L351.50,264.43L352.00,265.22L352.50,266.01L353.00,266.81L353.50,267.60L354.00,268.39L354.50,269.18L355.00,269.97L355.50,270.76L356.00,271.55L356.50,272.34L356.60,272.50L357.00,272.78L357.50,273.13L358.00,273.47L358.50,273.82L359.00,274.17L359.50,274.52L360.00,274.87L360.50,275.21L361.00,275.56L361.20,275.70L361.50,276.63L362.00,278.19L362.50,279.74L363.00,281.30L363.50,282.85L364.00,284.41L364.50,285.96L365.00,287.52L365.50,289.07L366.00,290.62L366.50,292.18L366.70,292.80L367.00,293.73L367.50,295.29L367.60,295.60L368.00,296.09L368.50,296.71L369.00,297.32L369.50,297.94L370.00,298.56L370.50,299.17L371.00,299.79L371.50,300.41L372.00,301.02L372.50,301.64L373.00,302.25L373.20,302.50L373.50,302.50L374.00,302.50L374.50,302.50L375.00,302.50L375.50,302.50L376.00,302.50L376.50,302.50L377.00,302.50L377.50,302.50L378.00,302.50L378.50,302.50L378.70,302.50L379.00,302.50L379.50,302.50L380.00,302.50L380.50,302.50L381.00,302.50L381.50,302.50L382.00,302.50L382.40,302.50L382.50,302.62L383.00,303.25L383.50,303.88L384.00,304.50L384.50,305.12L385.00,305.75L385.50,306.38L386.00,307.00L386.50,307.62L387.00,308.25L387.50,308.88L388.00,309.50L388.50,310.12L388.80,310.50L389.00,310.75L389.50,311.38L390.00,312.00L390.50,312.62L391.00,313.25L391.50,313.88L391.60,314.00L392.00,314.40L392.50,314.90L393.00,315.40L393.50,315.90L394.00,316.40L394.50,316.90L395.00,317.40L395.50,317.90L396.00,318.40L396.20,318.60L396.50,318.77L397.00,319.04L397.50,319.32L398.00,319.60L398.50,319.87L399.00,320.15L399.50,320.43L400.00,320.71L400.50,320.98L401.00,321.26L401.50,321.54L402.00,321.81L402.50,322.09L403.00,322.37L403.50,322.65L404.00,322.92L404.50,323.20L405.00,322.95L405.50,322.70L406.00,322.45L406.50,322.20L407.00,321.95L407.50,321.70L408.00,321.45L408.50,321.20L409.00,320.95L409.50,320.70L410.00,320.45L410.50,320.20L411.00,319.95L411.50,319.70L412.00,319.45L412.50,319.20L413.00,318.95L413.50,318.70L413.70,318.60L414.00,318.45L414.50,318.20L415.00,317.95L415.50,317.70L415.60,317.65L416.00,317.45L416.50,317.20L417.00,316.95L417.50,316.70L418.00,316.45L418.50,316.20L419.00,315.95L419.30,315.80L419.50,315.77L420.00,315.69L420.20,315.65L420.50,315.60L421.00,315.52L421.50,315.44L422.00,315.36L422.50,315.28L423.00,315.19L423.50,315.11L424.00,315.03L424.50,314.95L424.80,314.90L424.93,314.80L424.93,314.80L424.80,314.27L424.50,313.05L424.00,311.02L423.50,308.99L423.00,306.96L422.50,304.94L422.00,302.91L421.50,300.88L421.00,298.85L420.50,296.82L420.20,295.60L420.00,294.82L419.50,292.86L419.30,292.08L419.00,290.90L418.50,288.95L418.00,286.99L417.50,285.03L417.00,283.08L416.50,281.12L416.00,279.17L415.60,277.60L415.50,277.60L415.00,277.59L414.50,277.58L414.00,277.57L413.70,277.56L413.50,277.55L413.00,277.54L412.50,277.53L412.00,277.52L411.50,277.51L411.00,277.50L410.50,277.49L410.00,277.48L409.50,277.47L409.00,277.46L408.50,277.45L408.00,277.44L407.50,277.42L407.00,277.41L406.50,277.40L406.00,277.39L405.50,277.38L405.00,277.37L404.50,277.36L404.00,277.35L403.50,277.34L403.00,277.33L402.50,277.32L402.00,277.31L401.50,277.29L401.00,277.28L400.50,277.27L400.00,277.26L399.50,277.25L399.00,277.24L398.50,277.23L398.00,277.22L397.50,277.21L397.00,277.20L396.50,277.19L396.20,277.18L396.00,277.18L395.50,277.16L395.00,277.15L394.50,277.14L394.00,277.13L393.50,277.12L393.00,277.11L392.50,277.10L392.00,276.48L391.60,275.98L391.50,275.86L391.00,275.24L390.50,274.61L390.00,273.99L389.50,273.37L389.00,272.75L388.80,272.50L388.50,272.49L388.00,272.46L387.50,272.44L387.00,272.41L386.50,272.39L386.00,272.36L385.50,272.34L385.00,272.31L384.50,272.29L384.00,272.26L383.50,272.24L383.00,272.21L382.50,272.19L382.40,272.18L382.00,272.16L381.50,272.14L381.00,272.11L380.50,272.09L380.00,272.06L379.50,272.04L379.00,272.01L378.70,272.00L378.50,271.86L378.00,271.52L377.50,271.18L377.00,270.84L376.50,270.50L376.00,270.16L375.50,269.81L375.00,269.47L374.50,269.13L374.00,268.79L373.50,268.45L373.20,268.24L373.00,268.11L372.50,267.76L372.00,267.42L371.50,267.08L371.00,266.74L370.50,266.40L370.00,266.06L369.50,265.71L369.00,265.37L368.50,265.03L368.00,264.69L367.60,264.42L367.50,264.35L367.00,264.00L366.70,263.80L366.50,263.80L366.00,263.80L365.50,263.80L365.00,263.79L364.50,263.79L364.00,263.79L363.50,263.79L363.00,263.79L362.50,263.78L362.00,263.78L361.50,263.78L361.20,263.78L361.00,263.78L360.50,263.78L360.00,263.78L359.50,263.77L359.00,263.77L358.50,263.77L358.00,263.77L357.50,263.77L357.00,263.76L356.60,263.76L356.50,263.76L356.00,263.76L355.50,263.76L355.00,263.76L354.50,263.76L354.00,263.75L353.50,263.75L353.00,263.75L352.50,263.75L352.00,263.75L351.50,263.74L351.10,263.74L351.05,263.74ZM425.69,314.23L426.00,313.99L426.50,313.61L427.00,313.24L427.50,312.86L428.00,312.48L428.50,312.10L429.00,312.36L429.50,312.61L430.00,312.87L430.30,313.02L430.50,313.13L431.00,313.38L431.50,313.64L432.00,313.90L432.20,314.00L432.50,314.15L433.00,314.40L433.50,314.65L434.00,314.90L434.50,315.15L435.00,315.40L435.50,315.65L436.00,315.90L436.50,316.15L437.00,316.40L437.40,316.60L437.50,316.54L438.00,316.24L438.50,315.93L439.00,315.63L439.50,315.33L440.00,315.02L440.50,314.72L441.00,314.42L441.50,314.11L442.00,313.81L442.50,313.51L443.00,313.20L443.50,312.90L444.00,312.60L444.50,312.29L445.00,311.99L445.50,311.69L446.00,311.38L446.30,311.20L446.50,311.19L447.00,311.15L447.50,311.11L448.00,311.07L448.50,311.03L449.00,311.00L449.50,310.96L450.00,310.92L450.50,310.88L451.00,310.85L451.50,310.81L452.00,310.77L452.50,310.74L453.00,310.70L453.50,310.66L454.00,310.62L454.50,310.58L455.00,310.55L455.50,310.51L456.00,310.47L456.50,310.44L457.00,310.40L457.50,310.36L458.00,310.32L458.30,310.30L458.50,310.30L459.00,310.29L459.50,310.28L460.00,310.27L460.50,310.26L461.00,310.25L461.50,310.24L462.00,310.23L462.50,310.22L463.00,310.21L463.50,310.20L464.00,310.19L464.50,310.18L465.00,310.17L465.50,310.16L466.00,310.15L466.50,310.14L467.00,310.14L467.50,310.13L468.00,310.12L468.50,310.11L469.00,310.10L469.50,310.09L470.00,310.08L470.50,310.07L471.00,310.06L471.50,310.05L472.00,310.04L472.50,310.03L473.00,310.02L473.50,310.01L474.00,310.00L474.50,309.99L475.00,309.98L475.50,309.97L476.00,309.96L476.50,309.95L477.00,309.95L477.50,309.94L478.00,309.93L478.50,309.92L479.00,309.91L479.40,309.90L479.50,309.63L480.00,308.30L480.50,306.97L481.00,305.63L481.50,304.30L482.00,302.97L482.50,301.63L483.00,300.30L483.50,298.97L483.90,297.90L484.00,297.78L484.50,297.18L485.00,296.58L485.50,295.98L486.00,295.38L486.50,294.78L487.00,294.18L487.50,293.58L488.00,292.98L488.50,292.38L489.00,291.78L489.50,291.18L490.00,290.58L490.50,289.98L491.00,289.38L491.40,288.90L491.50,288.88L492.00,288.79L492.50,288.70L493.00,288.62L493.50,288.53L494.00,288.44L494.50,288.35L495.00,288.26L495.50,288.17L495.90,288.10L496.00,288.11L496.50,288.15L497.00,288.20L497.50,288.24L498.00,288.29L498.50,288.33L499.00,288.38L499.50,288.42L500.00,288.46L500.50,288.51L501.00,288.55L501.50,288.60L502.00,288.64L502.50,288.69L503.00,288.73L503.50,288.78L504.00,288.82L504.50,288.86L504.90,288.90L505.00,288.92L505.50,289.05L506.00,289.17L506.50,289.30L507.00,289.42L507.50,289.55L508.00,289.67L508.50,289.80L509.00,289.92L509.50,290.05L510.00,290.17L510.50,290.30L510.90,290.40L510.90,290.40L510.50,290.20L510.00,289.95L509.50,289.70L509.00,289.45L508.50,289.20L508.00,288.95L507.50,288.70L507.00,288.45L506.50,288.20L506.00,287.95L505.50,287.70L505.00,287.45L504.90,287.40L504.50,287.40L504.00,287.40L503.50,287.40L503.00,287.40L502.50,287.40L502.00,287.40L501.50,287.40L501.00,287.39L500.50,287.39L500.00,287.39L499.50,287.39L499.00,287.39L498.50,287.39L498.00,287.39L497.50,287.39L497.00,287.39L496.50,287.39L496.00,287.39L495.90,287.39L495.50,287.39L495.00,287.39L494.50,287.39L494.00,287.39L493.50,287.38L493.00,287.38L492.50,287.38L492.00,287.38L491.50,287.38L491.40,287.38L491.00,287.38L490.50,287.38L490.00,287.38L489.50,287.38L489.00,287.38L488.50,287.38L488.00,287.38L487.50,287.38L487.00,287.38L486.50,287.38L486.00,287.37L485.50,287.37L485.00,287.37L484.50,287.37L484.00,287.37L483.90,287.37L483.50,287.37L483.00,287.37L482.50,287.37L482.00,287.37L481.50,287.37L481.00,287.37L480.50,287.37L480.00,287.37L479.50,287.37L479.40,287.37L479.00,287.37L478.50,287.36L478.00,287.36L477.50,287.36L477.00,287.36L476.50,287.36L476.00,287.36L475.50,287.36L475.00,287.36L474.50,287.36L474.00,287.36L473.50,287.36L473.00,287.36L472.50,287.36L472.00,287.36L471.50,287.36L471.00,287.35L470.50,287.35L470.00,287.35L469.50,287.35L469.00,287.35L468.50,287.35L468.00,287.35L467.50,287.35L467.00,287.35L466.50,287.35L466.00,287.35L465.50,287.35L465.00,287.35L464.50,287.35L464.00,287.35L463.50,287.34L463.00,287.34L462.50,287.34L462.00,287.34L461.50,287.34L461.00,287.34L460.50,287.34L460.00,287.34L459.50,287.34L459.00,287.34L458.50,287.34L458.30,287.34L458.00,287.34L457.50,287.34L457.00,287.34L456.50,287.34L456.00,287.33L455.50,287.33L455.00,287.33L454.50,287.33L454.00,287.33L453.50,287.33L453.00,287.33L452.50,287.33L452.00,287.33L451.50,287.33L451.00,287.33L450.50,287.33L450.00,287.33L449.50,287.33L449.00,287.33L448.50,287.32L448.00,287.32L447.50,287.32L447.00,287.32L446.50,287.32L446.30,287.32L446.00,287.32L445.50,287.32L445.00,287.32L444.50,287.32L444.00,287.32L443.50,287.32L443.00,287.32L442.50,287.32L442.00,287.32L441.50,287.32L441.00,287.31L440.50,287.31L440.00,287.31L439.50,287.31L439.00,287.31L438.50,287.31L438.00,287.31L437.50,287.31L437.40,287.31L437.00,287.31L436.50,287.31L436.00,287.31L435.50,287.31L435.00,287.31L434.50,287.31L434.00,287.30L433.50,287.30L433.00,287.30L432.50,287.30L432.20,287.30L432.00,287.30L431.50,287.30L431.00,287.30L430.50,287.30L430.30,287.30L430.00,289.28L429.50,292.59L429.00,295.89L428.50,299.20L428.00,301.87L427.50,304.54L427.00,307.22L426.50,309.89L426.00,312.56L425.69,314.23ZM530.70,303.10L531.00,303.44L531.50,304.02L532.00,304.60L532.50,305.18L533.00,305.75L533.30,306.10L533.50,306.04L534.00,305.89L534.50,305.75L535.00,305.60L535.50,305.45L536.00,305.31L536.50,305.16L537.00,305.01L537.50,304.87L538.00,304.72L538.50,304.57L539.00,304.43L539.50,304.28L540.00,304.13L540.50,303.99L540.80,303.90L541.00,303.87L541.50,303.78L542.00,303.70L542.50,303.62L543.00,303.53L543.50,303.45L544.00,303.37L544.50,303.28L545.00,303.20L545.30,303.15L545.33,303.15L545.33,303.15L545.30,303.10L545.00,303.10L544.50,303.10L544.00,303.10L543.50,303.10L543.00,303.10L542.50,303.10L542.00,303.10L541.50,303.10L541.00,303.10L540.80,303.10L540.50,303.10L540.00,303.10L539.50,303.10L539.00,303.10L538.50,303.10L538.00,303.10L537.50,303.10L537.00,303.10L536.50,303.10L536.00,303.10L535.50,303.10L535.00,303.10L534.50,303.10L534.00,303.10L533.50,303.10L533.30,303.10L533.00,303.10L532.50,303.10L532.00,303.10L531.50,303.10L531.00,303.10L530.70,303.10ZM723.90,275.70L724.00,275.89L724.50,276.81L725.00,277.74L725.50,278.67L726.00,279.59L726.50,280.52L727.00,281.45L727.50,282.37L728.00,283.30L728.50,283.90L729.00,284.50L729.50,285.10L730.00,285.70L730.50,286.30L731.00,286.90L731.50,287.03L732.00,287.17L732.50,287.30L733.00,287.44L733.50,287.57L734.00,287.70L734.50,287.84L735.00,287.97L735.10,288.00L735.50,288.24L736.00,288.53L736.50,288.82L737.00,289.12L737.50,289.41L738.00,289.71L738.50,290.00L739.00,290.29L739.50,290.59L740.00,290.88L740.20,291.00L740.50,291.09L741.00,291.25L741.50,291.40L742.00,291.55L742.50,291.71L743.00,291.86L743.50,292.02L744.00,292.17L744.50,292.32L745.00,292.48L745.40,292.60L745.50,292.62L746.00,292.75L746.50,292.87L747.00,293.00L747.50,293.12L748.00,293.24L748.50,293.37L749.00,293.49L749.50,293.61L750.00,293.74L750.50,293.86L751.00,293.98L751.50,294.11L752.00,294.23L752.50,294.35L753.00,294.48L753.50,294.60L754.00,294.80L754.50,295.00L755.00,295.20L755.50,295.40L756.00,295.60L756.50,295.80L757.00,296.00L757.50,296.20L758.00,296.40L758.50,296.60L759.00,296.80L759.50,297.00L760.00,297.20L760.50,297.27L761.00,297.34L761.50,297.42L762.00,297.49L762.50,297.56L763.00,297.63L763.50,297.70L764.00,297.78L764.50,297.85L765.00,297.92L765.50,297.99L766.00,298.07L766.50,298.14L767.00,298.21L767.50,298.28L768.00,298.35L768.50,298.43L769.00,298.50L769.50,298.57L770.00,298.64L770.40,298.70L770.50,298.56L771.00,297.89L771.50,297.21L772.00,296.54L772.50,295.86L773.00,295.18L773.50,294.51L774.00,293.83L774.50,293.15L775.00,292.48L775.50,291.80L776.00,291.74L776.50,291.67L777.00,291.61L777.50,291.54L778.00,291.48L778.50,291.41L779.00,291.35L779.50,291.29L780.00,291.22L780.50,291.16L781.00,291.09L781.50,291.03L782.00,290.96L782.50,290.90L783.00,291.12L783.50,291.33L784.00,291.55L784.50,291.77L785.00,291.98L785.50,292.20L786.00,292.42L786.50,292.63L787.00,292.85L787.50,293.07L788.00,293.28L788.50,293.50L789.00,294.16L789.50,294.83L790.00,295.49L790.50,296.15L791.00,296.81L791.50,297.48L792.00,298.14L792.50,298.80L792.80,299.20L793.00,299.07L793.50,298.73L794.00,298.39L794.50,298.06L795.00,297.72L795.50,297.38L796.00,297.05L796.50,296.71L797.00,296.37L797.50,296.04L798.00,295.70L798.50,295.68L799.00,295.65L799.50,295.63L800.00,295.60L800.50,295.58L801.00,295.56L801.50,295.53L802.00,295.51L802.50,295.48L803.00,295.46L803.50,295.44L804.00,295.41L804.50,295.39L805.00,295.36L805.50,295.34L806.00,295.32L806.50,295.29L807.00,295.27L807.50,295.24L808.00,295.22L808.40,295.20L808.50,295.26L809.00,295.57L809.50,295.89L810.00,296.20L810.50,296.51L811.00,296.82L811.50,297.13L812.00,297.44L812.50,297.76L813.00,298.07L813.50,298.38L814.00,298.69L814.50,299.00L815.00,299.31L815.30,299.50L815.50,299.83L816.00,300.67L816.50,301.51L817.00,302.34L817.50,303.18L818.00,304.02L818.50,304.85L819.00,305.69L819.50,306.53L820.00,307.36L820.50,308.20L821.00,308.50L821.50,308.80L822.00,309.11L822.50,309.41L823.00,309.71L823.50,310.01L824.00,310.32L824.50,310.62L825.00,310.92L825.50,311.22L826.00,311.53L826.50,311.83L827.00,312.13L827.50,312.43L828.00,312.73L828.50,313.04L829.00,313.34L829.10,313.40L829.50,314.38L830.00,315.61L830.50,316.84L831.00,318.07L831.50,319.30L832.00,320.53L832.50,321.75L832.60,322.00L833.00,322.41L833.50,322.92L834.00,323.43L834.50,323.94L835.00,324.45L835.50,324.96L836.00,325.47L836.50,325.98L837.00,326.49L837.50,327.00L837.70,327.20L838.00,327.26L838.50,327.36L839.00,327.45L839.50,327.55L840.00,327.65L840.50,327.75L841.00,327.84L841.50,327.94L842.00,328.04L842.50,328.14L843.00,328.24L843.50,328.33L844.00,328.43L844.50,328.53L845.00,328.63L845.50,328.72L846.00,328.82L846.40,328.90L846.50,329.06L847.00,329.86L847.50,330.67L848.00,331.47L848.50,332.27L849.00,333.07L849.50,333.87L850.00,334.68L850.50,335.48L851.00,336.28L851.50,337.08L851.60,337.24L852.00,337.89L852.50,338.69L853.00,339.49L853.50,340.29L854.00,341.10L854.50,341.90L855.00,342.70L855.50,343.70L856.00,344.70L856.50,345.70L857.00,346.70L857.50,347.70L858.00,348.70L858.50,349.70L859.00,350.70L859.50,351.70L860.00,352.70L860.20,353.10L860.50,354.47L861.00,356.75L861.50,359.03L862.00,361.31L862.50,363.59L863.00,365.86L863.50,368.14L863.60,368.60L864.00,369.80L864.50,371.30L865.00,372.80L865.50,374.30L866.00,375.80L866.50,377.30L867.00,378.80L867.50,380.30L868.00,381.80L868.50,383.30L868.80,384.20L869.00,384.38L869.50,384.83L870.00,385.28L870.50,385.72L871.00,386.17L871.50,386.62L872.00,387.07L872.50,387.52L873.00,387.97L873.50,388.41L874.00,388.86L874.50,389.31L875.00,389.76L875.50,390.21L876.00,390.66L876.50,391.10L877.00,391.55L877.50,392.00L878.00,392.04L878.50,392.08L879.00,392.12L879.50,392.16L880.00,392.20L880.50,392.60L881.00,393.00L881.50,393.40L882.00,393.80L882.50,394.20L883.00,394.60L883.50,395.00L884.00,395.40L884.50,395.80L885.00,396.20L885.50,396.60L886.00,397.00L886.50,397.40L887.00,397.80L887.50,398.20L888.00,398.37L888.50,398.53L889.00,398.70L889.50,398.87L890.00,399.03L890.50,399.20L891.00,399.37L891.50,399.53L892.00,399.70L892.50,399.76L893.00,399.82L893.50,399.89L894.00,399.95L894.50,400.01L895.00,400.07L895.50,400.14L896.00,400.20L896.50,400.26L897.00,400.32L897.50,400.39L898.00,400.45L898.50,400.51L899.00,400.57L899.50,400.64L900.00,400.70L900.50,400.76L901.00,400.82L901.50,400.89L902.00,400.95L902.50,401.01L903.00,401.07L903.50,401.14L904.00,401.20L904.50,400.76L905.00,400.32L905.50,399.88L906.00,399.43L906.50,398.99L907.00,398.55L907.50,398.11L908.00,397.67L908.50,397.22L909.00,396.78L909.50,396.34L910.00,395.90L910.50,395.40L911.00,394.90L911.50,394.40L912.00,393.90L912.50,393.40L913.00,392.90L913.50,392.40L914.00,391.90L914.50,391.40L915.00,391.55L915.50,391.71L916.00,391.86L916.50,392.01L917.00,392.17L917.50,392.32L918.00,392.47L918.50,392.63L919.00,392.78L919.50,392.93L920.00,393.09L920.50,393.24L921.00,393.39L921.50,393.55L922.00,393.70L922.50,393.72L923.00,393.74L923.50,393.76L924.00,393.78L924.50,393.80L925.00,393.82L925.50,393.84L926.00,393.86L926.50,393.89L927.00,393.91L927.50,393.93L928.00,393.95L928.50,393.97L929.00,393.99L929.50,394.01L930.00,394.03L930.50,394.05L931.00,394.07L931.50,394.09L931.70,394.10L932.00,394.81L932.50,395.99L933.00,397.17L933.50,398.36L934.00,399.54L934.50,400.72L935.00,401.91L935.50,403.09L936.00,404.27L936.50,405.45L936.90,406.40L937.00,406.42L937.50,406.55L938.00,406.67L938.50,406.80L939.00,406.92L939.50,407.05L939.90,407.15L940.00,407.17L940.50,407.30L941.00,407.42L941.50,407.55L942.00,407.67L942.50,407.80L942.90,407.90L943.00,407.92L943.50,408.00L944.00,408.08L944.50,408.17L945.00,408.25L945.50,408.33L946.00,408.42L946.50,408.50L947.00,408.58L947.50,408.67L948.00,408.75L948.50,408.83L949.00,408.92L949.50,409.00L950.00,409.08L950.40,409.15L950.50,409.17L951.00,409.25L951.50,409.33L951.90,409.40L952.00,409.41L952.50,409.49L953.00,409.56L953.50,409.63L954.00,409.70L954.20,409.73L954.50,409.77L955.00,409.84L955.50,409.91L956.00,409.99L956.50,410.06L957.00,410.13L957.50,410.20L958.00,410.27L958.50,410.34L959.00,410.41L959.50,410.49L960.00,410.56L960.50,410.63L961.00,410.70L961.50,410.77L962.00,410.84L962.40,410.90L962.50,411.00L963.00,411.47L963.50,411.94L964.00,412.42L964.50,412.90L965.00,413.37L965.50,413.85L966.00,414.32L966.50,414.80L967.00,415.27L967.50,415.75L968.00,416.22L968.40,416.60L968.50,416.60L969.00,416.60L969.50,416.60L970.00,416.60L970.50,416.60L971.00,416.60L971.50,416.60L972.00,416.60L972.50,416.60L973.00,416.60L973.50,416.60L974.00,416.60L974.50,416.60L975.00,416.60L975.50,416.60L976.00,416.60L976.50,416.60L977.00,416.60L977.40,416.60L977.50,416.48L978.00,415.90L978.50,415.32L979.00,414.74L979.50,414.16L980.00,413.58L980.50,413.00L981.00,412.42L981.50,411.84L982.00,411.26L982.50,410.68L983.00,410.10L983.50,409.52L984.00,408.94L984.50,408.36L984.90,407.90L985.00,407.82L985.50,407.40L986.00,406.98L986.50,406.57L987.00,406.15L987.50,405.73L988.00,405.32L988.50,404.90L989.00,404.48L989.50,404.07L990.00,403.65L990.50,403.23L991.00,402.82L991.50,402.40L992.00,401.98L992.50,401.57L993.00,401.15L993.50,400.73L993.90,400.40L994.00,400.33L994.50,400.00L995.00,399.66L995.50,399.32L996.00,398.98L996.50,398.65L997.00,398.31L997.50,397.97L998.00,397.64L998.50,397.30L999.00,396.96L999.50,396.62L1000.00,396.29L1000.50,395.95L1001.00,395.61L1001.50,395.28L1002.00,394.94L1002.50,394.60L1002.80,394.40L1003.00,394.11L1003.50,393.37L1004.00,392.63L1004.50,391.90L1005.00,391.16L1005.50,390.43L1006.00,389.69L1006.50,388.95L1007.00,388.22L1007.50,387.48L1008.00,386.75L1008.10,386.60L1008.50,386.54L1009.00,386.46L1009.50,386.38L1010.00,386.31L1010.50,386.23L1011.00,386.15L1011.50,386.07L1012.00,386.00L1012.50,385.92L1013.00,385.84L1013.50,385.76L1014.00,385.69L1014.50,385.61L1015.00,385.53L1015.50,385.46L1016.00,385.38L1016.50,385.30L1017.00,385.22L1017.50,385.15L1017.80,385.10L1018.00,385.02L1018.50,384.82L1019.00,384.62L1019.50,384.42L1020.00,384.22L1020.50,384.02L1021.00,383.82L1021.50,383.62L1022.00,383.42L1022.50,383.22L1023.00,383.02L1023.50,382.82L1024.00,382.62L1024.50,382.42L1025.00,382.22L1025.50,382.02L1026.00,381.82L1026.50,381.62L1027.00,381.42L1027.50,381.22L1028.00,381.02L1028.30,380.90L1028.50,380.68L1029.00,380.12L1029.50,379.56L1029.80,379.22L1030.00,379.00L1030.50,378.44L1031.00,377.88L1031.50,377.33L1031.94,376.83L1031.94,376.83L1031.50,376.80L1031.00,376.77L1030.50,376.74L1030.00,376.71L1029.80,376.70L1029.50,376.70L1029.00,376.70L1028.50,376.69L1028.30,376.69L1028.00,376.69L1027.50,376.69L1027.00,376.69L1026.50,376.69L1026.00,376.68L1025.50,376.68L1025.00,376.68L1024.50,376.68L1024.00,376.68L1023.50,376.68L1023.00,376.67L1022.50,376.67L1022.00,376.67L1021.50,376.67L1021.00,376.67L1020.50,376.66L1020.00,376.66L1019.50,376.66L1019.00,376.66L1018.50,376.66L1018.00,376.65L1017.80,376.65L1017.50,376.65L1017.00,376.65L1016.50,376.65L1016.00,376.65L1015.50,376.64L1015.00,376.64L1014.50,376.64L1014.00,376.64L1013.50,376.64L1013.00,376.63L1012.50,376.63L1012.00,376.63L1011.50,376.63L1011.00,376.63L1010.50,376.62L1010.00,376.62L1009.50,376.62L1009.00,376.62L1008.50,376.62L1008.10,376.61L1008.00,376.61L1007.50,376.61L1007.00,376.61L1006.50,376.61L1006.00,376.61L1005.50,376.60L1005.00,376.60L1004.50,376.60L1004.00,376.60L1003.50,376.60L1003.00,376.59L1002.80,376.59L1002.50,376.59L1002.00,376.59L1001.50,376.59L1001.00,376.59L1000.50,376.58L1000.00,376.58L999.50,376.58L999.00,376.58L998.50,376.58L998.00,376.57L997.50,376.57L997.00,376.57L996.50,376.57L996.00,376.57L995.50,376.56L995.00,376.56L994.50,376.56L994.00,376.56L993.90,376.56L993.50,376.56L993.00,376.55L992.50,376.55L992.00,376.55L991.50,376.55L991.00,376.55L990.50,376.54L990.00,376.54L989.50,376.54L989.00,376.54L988.50,376.54L988.00,376.53L987.50,376.53L987.00,376.53L986.50,376.53L986.00,376.53L985.50,376.52L985.00,376.52L984.90,376.52L984.50,376.52L984.00,376.52L983.50,376.52L983.00,376.51L982.50,376.51L982.00,376.51L981.50,376.51L981.00,376.51L980.50,376.50L980.00,376.50L979.50,376.50L979.00,376.50L978.50,376.50L978.00,376.49L977.50,376.49L977.40,376.49L977.00,376.49L976.50,376.49L976.00,376.49L975.50,376.48L975.00,376.48L974.50,376.48L974.00,376.48L973.50,376.48L973.00,376.47L972.50,376.47L972.00,376.47L971.50,376.47L971.00,376.47L970.50,376.46L970.00,376.46L969.50,376.46L969.00,376.46L968.50,376.46L968.40,376.46L968.00,376.45L967.50,376.45L967.00,376.45L966.50,376.45L966.00,376.45L965.50,376.44L965.00,376.44L964.50,376.44L964.00,376.44L963.50,376.44L963.00,376.43L962.50,376.43L962.40,376.43L962.00,376.43L961.50,376.43L961.00,376.43L960.50,376.42L960.00,376.42L959.50,376.42L959.00,376.42L958.50,376.42L958.00,376.42L957.50,376.41L957.00,376.41L956.50,376.41L956.00,376.41L955.50,376.41L955.00,376.40L954.50,376.40L954.20,376.40L954.00,376.08L953.50,375.29L953.00,374.51L952.50,373.72L952.00,372.93L951.90,372.77L951.50,372.14L951.00,371.35L950.50,370.56L950.40,370.40L950.00,370.37L949.50,370.34L949.00,370.31L948.50,370.27L948.00,370.24L947.50,370.21L947.00,370.17L946.50,370.14L946.00,370.11L945.50,370.07L945.00,370.04L944.50,370.01L944.00,369.97L943.50,369.94L943.00,369.91L942.90,369.90L942.50,369.87L942.00,369.84L941.50,369.81L941.00,369.77L940.50,369.74L940.00,369.71L939.90,369.70L939.50,368.21L939.00,366.34L938.50,364.47L938.00,362.61L937.50,360.74L937.00,358.87L936.90,358.50L936.50,358.49L936.00,358.47L935.50,358.46L935.00,358.44L934.50,358.43L934.00,358.41L933.50,358.40L933.00,358.38L932.50,358.37L932.00,358.35L931.70,358.35L931.50,358.34L931.00,358.32L930.50,358.31L930.00,358.29L929.50,358.28L929.00,358.27L928.50,358.25L928.00,358.24L927.50,358.22L927.00,358.21L926.50,358.19L926.00,358.18L925.50,358.16L925.00,358.15L924.50,358.13L924.00,358.12L923.50,358.10L923.00,358.09L922.50,358.07L922.00,358.06L921.50,358.04L921.00,358.03L920.50,358.01L920.00,358.00L919.50,357.98L919.00,357.97L918.50,357.95L918.00,357.94L917.50,357.92L917.00,357.91L916.50,357.89L916.00,357.88L915.50,357.86L915.00,357.85L914.50,357.83L914.00,357.82L913.50,357.80L913.00,357.79L912.50,357.77L912.00,357.76L911.50,357.74L911.00,357.73L910.50,357.71L910.00,357.70L909.50,355.33L909.00,352.97L908.50,350.60L908.00,348.23L907.50,345.87L907.00,343.50L906.50,343.46L906.00,343.42L905.50,343.39L905.00,343.35L904.50,343.31L904.00,343.27L903.50,343.23L903.00,343.20L902.50,343.16L902.00,343.12L901.50,343.08L901.00,343.04L900.50,343.00L900.00,342.97L899.50,342.93L899.00,342.89L898.50,342.85L898.00,342.81L897.50,342.78L897.00,342.74L896.50,342.70L896.00,342.69L895.50,342.67L895.00,342.66L894.50,342.64L894.00,342.63L893.50,342.61L893.00,342.60L892.50,342.58L892.00,342.57L891.50,342.56L891.00,342.54L890.50,342.53L890.00,342.51L889.50,342.50L889.00,342.48L888.50,342.47L888.00,342.45L887.50,342.44L887.00,342.43L886.50,342.41L886.00,342.40L885.50,342.38L885.00,342.37L884.50,342.35L884.00,342.34L883.50,342.32L883.00,342.31L882.50,342.30L882.00,342.28L881.50,342.27L881.00,342.25L880.50,342.24L880.00,342.22L879.50,342.21L879.00,342.19L878.50,342.18L878.00,342.17L877.50,342.15L877.00,342.14L876.50,342.12L876.00,342.11L875.50,342.09L875.00,342.08L874.50,342.06L874.00,342.05L873.50,342.04L873.00,342.02L872.50,342.01L872.00,341.99L871.50,341.98L871.00,341.96L870.50,341.95L870.00,341.93L869.50,341.92L869.00,341.91L868.80,341.90L868.50,340.75L868.00,338.84L867.50,336.93L867.00,335.01L866.50,333.10L866.00,331.18L865.50,329.27L865.00,327.36L864.50,325.44L864.00,323.53L863.60,322.00L863.50,321.54L863.00,319.26L862.50,316.99L862.00,314.71L861.50,312.43L861.00,310.15L860.50,307.87L860.20,306.50L860.00,306.38L859.50,306.08L859.00,305.77L858.50,305.47L858.00,305.17L857.50,304.87L857.00,304.57L856.50,304.26L856.00,303.96L855.50,303.66L855.00,303.36L854.50,303.05L854.00,302.75L853.50,302.45L853.00,302.15L852.50,301.84L852.00,301.54L851.60,301.30L851.50,301.10L851.00,300.10L850.50,299.10L850.00,298.10L849.50,297.10L849.00,296.10L848.50,295.10L848.00,294.10L847.50,293.10L847.00,292.10L846.50,291.10L846.40,290.90L846.00,290.87L845.50,290.84L845.00,290.81L844.50,290.78L844.00,290.74L843.50,290.71L843.00,290.68L842.50,290.65L842.00,290.61L841.50,290.58L841.00,290.55L840.50,290.52L840.00,290.48L839.50,290.45L839.00,290.42L838.50,290.38L838.00,290.35L837.70,290.33L837.50,290.32L837.00,290.29L836.50,290.25L836.00,290.22L835.50,290.19L835.00,290.16L834.50,290.12L834.00,290.09L833.50,290.06L833.00,290.03L832.60,290.00L832.50,289.64L832.00,287.84L831.50,286.04L831.00,284.24L830.50,282.44L830.00,280.64L829.50,278.84L829.10,277.40L829.00,277.40L828.50,277.40L828.00,277.40L827.50,277.40L827.00,277.41L826.50,277.41L826.00,277.41L825.50,277.41L825.00,277.41L824.50,277.41L824.00,277.42L823.50,277.42L823.00,277.42L822.50,277.42L822.00,277.42L821.50,277.42L821.00,277.42L820.50,277.43L820.00,277.43L819.50,277.43L819.00,277.43L818.50,277.43L818.00,277.43L817.50,277.44L817.00,277.44L816.50,277.44L816.00,277.44L815.50,277.44L815.30,277.44L815.00,277.44L814.50,277.44L814.00,277.45L813.50,277.45L813.00,277.45L812.50,277.45L812.00,277.45L811.50,277.45L811.00,277.45L810.50,277.46L810.00,277.46L809.50,277.46L809.00,277.46L808.50,277.46L808.40,277.46L808.00,277.46L807.50,277.47L807.00,277.47L806.50,277.47L806.00,277.47L805.50,277.47L805.00,277.47L804.50,277.47L804.00,277.48L803.50,277.48L803.00,277.48L802.50,277.48L802.00,277.48L801.50,277.48L801.00,277.49L800.50,277.49L800.00,277.49L799.50,277.49L799.00,277.49L798.50,277.49L798.00,277.49L797.50,277.50L797.00,277.50L796.50,277.50L796.00,277.50L795.50,277.50L795.00,277.50L794.50,277.50L794.00,277.51L793.50,277.51L793.00,277.51L792.80,277.51L792.50,277.51L792.00,277.51L791.50,277.51L791.00,277.52L790.50,277.52L790.00,277.52L789.50,277.52L789.00,277.52L788.50,277.52L788.00,277.52L787.50,277.53L787.00,277.53L786.50,277.53L786.00,277.53L785.50,277.53L785.00,277.53L784.50,277.54L784.00,277.54L783.50,277.54L783.00,277.54L782.50,277.54L782.00,277.54L781.50,277.54L781.00,277.55L780.50,277.55L780.00,277.55L779.50,277.55L779.00,277.55L778.50,277.55L778.00,277.55L777.50,277.56L777.00,277.56L776.50,277.56L776.00,277.56L775.50,277.56L775.00,277.56L774.50,277.57L774.00,277.57L773.50,277.57L773.00,277.57L772.50,277.57L772.00,277.57L771.50,277.57L771.00,277.58L770.50,277.58L770.40,277.58L770.00,277.58L769.50,277.58L769.00,277.58L768.50,277.58L768.00,277.58L767.50,277.59L767.00,277.59L766.50,277.59L766.00,277.59L765.50,277.59L765.00,277.59L764.50,277.60L764.00,277.60L763.50,277.60L763.00,277.60L762.50,277.60L762.00,277.60L761.50,277.60L761.00,277.61L760.50,277.61L760.00,277.61L759.50,277.61L759.00,277.61L758.50,277.61L758.00,277.62L757.50,277.62L757.00,277.62L756.50,277.62L756.00,277.62L755.50,277.62L755.00,277.62L754.50,277.63L754.00,277.63L753.50,277.63L753.00,277.63L752.50,277.63L752.00,277.63L751.50,277.63L751.00,277.64L750.50,277.64L750.00,277.64L749.50,277.64L749.00,277.64L748.50,277.64L748.00,277.65L747.50,277.65L747.00,277.65L746.50,277.65L746.00,277.65L745.50,277.65L745.40,277.65L745.00,277.65L744.50,277.66L744.00,277.66L743.50,277.66L743.00,277.66L742.50,277.66L742.00,277.66L741.50,277.67L741.00,277.67L740.50,277.67L740.20,277.67L740.00,277.67L739.50,277.67L739.00,277.67L738.50,277.67L738.00,277.68L737.50,277.68L737.00,277.68L736.50,277.68L736.00,277.68L735.50,277.68L735.10,277.68L735.00,277.68L734.50,277.69L734.00,277.69L733.50,277.69L733.00,277.69L732.50,277.69L732.00,277.69L731.50,277.70L731.00,277.70L730.50,277.70L730.00,277.70L729.50,277.54L729.00,277.37L728.50,277.21L728.00,277.04L727.50,276.88L727.00,276.72L726.50,276.55L726.00,276.39L725.50,276.22L725.00,276.06L724.50,275.90L724.00,275.73L723.90,275.70ZM1105.26,391.09L1105.50,391.90L1106.00,393.57L1106.50,395.23L1107.00,396.90L1107.30,397.90L1107.50,398.04L1108.00,398.39L1108.50,398.74L1109.00,399.09L1109.50,399.44L1110.00,399.79L1110.50,400.13L1111.00,400.48L1111.50,400.83L1112.00,401.18L1112.50,401.53L1113.00,401.88L1113.50,402.23L1113.60,402.30L1114.00,402.76L1114.50,403.33L1115.00,403.90L1115.50,404.47L1116.00,405.04L1116.50,405.61L1117.00,406.18L1117.50,406.75L1118.00,407.32L1118.50,407.89L1118.90,408.35L1119.00,408.46L1119.50,409.03L1120.00,409.60L1120.50,410.17L1120.70,410.40L1121.00,410.77L1121.50,411.39L1122.00,412.01L1122.50,412.62L1123.00,413.24L1123.40,413.74L1123.50,413.86L1124.00,414.48L1124.50,415.10L1125.00,415.72L1125.50,416.33L1126.00,416.95L1126.50,417.57L1127.00,418.19L1127.50,418.81L1127.90,419.30L1128.00,419.36L1128.50,419.68L1129.00,420.00L1129.50,420.31L1129.60,420.38L1130.00,420.63L1130.50,420.95L1131.00,421.26L1131.50,421.58L1132.00,421.90L1132.50,422.22L1133.00,422.53L1133.50,422.85L1134.00,423.17L1134.50,423.48L1135.00,423.80L1135.50,424.24L1136.00,424.67L1136.50,425.11L1137.00,425.55L1137.50,425.98L1138.00,426.42L1138.50,426.86L1139.00,427.29L1139.50,427.73L1140.00,428.17L1140.40,428.52L1140.50,428.60L1141.00,429.04L1141.50,429.48L1142.00,429.91L1142.10,430.00L1142.50,430.39L1143.00,430.89L1143.50,431.38L1144.00,431.87L1144.50,432.37L1145.00,432.86L1145.50,433.35L1146.00,433.85L1146.50,434.34L1147.00,434.83L1147.50,435.33L1148.00,435.82L1148.50,436.31L1149.00,436.80L1149.30,437.10L1149.50,437.38L1150.00,438.08L1150.50,438.77L1151.00,439.47L1151.50,440.17L1152.00,440.86L1152.50,441.56L1153.00,442.26L1153.50,442.96L1154.00,443.65L1154.50,444.35L1155.00,445.05L1155.50,445.75L1156.00,446.44L1156.40,447.00L1156.50,447.05L1157.00,447.29L1157.50,447.54L1158.00,447.78L1158.50,448.03L1159.00,448.27L1159.50,448.52L1160.00,448.76L1160.50,449.00L1161.00,449.25L1161.50,449.49L1162.00,449.74L1162.50,449.98L1163.00,450.23L1163.50,450.47L1164.00,450.72L1164.50,450.96L1165.00,451.20L1165.40,451.40L1165.50,451.42L1166.00,451.52L1166.50,451.62L1167.00,451.72L1167.50,451.82L1168.00,451.93L1168.50,452.03L1169.00,452.13L1169.50,452.23L1170.00,452.33L1170.50,452.43L1171.00,452.53L1171.50,452.63L1172.00,452.73L1172.50,452.84L1173.00,452.94L1173.50,453.04L1174.00,453.14L1174.30,453.20L1174.50,453.17L1175.00,453.08L1175.50,453.00L1176.00,452.91L1176.10,452.89L1176.50,452.83L1177.00,452.74L1177.50,452.66L1178.00,452.57L1178.50,452.49L1179.00,452.40L1179.50,452.32L1179.60,452.30L1180.00,452.57L1180.50,452.90L1181.00,453.23L1181.50,453.57L1182.00,453.90L1182.50,454.23L1183.00,454.57L1183.50,454.90L1184.00,455.23L1184.50,455.57L1185.00,455.90L1185.50,456.34L1186.00,456.77L1186.50,457.21L1187.00,457.65L1187.50,458.08L1188.00,458.52L1188.50,458.96L1189.00,459.39L1189.50,459.83L1190.00,460.27L1190.40,460.62L1190.50,460.70L1191.00,461.14L1191.50,461.58L1192.00,462.01L1192.10,462.10L1192.50,462.12L1193.00,462.15L1193.50,462.18L1194.00,462.21L1194.50,462.23L1195.00,462.26L1195.50,462.29L1196.00,462.32L1196.50,462.35L1197.00,462.37L1197.50,462.40L1198.00,462.43L1198.50,462.46L1199.00,462.49L1199.50,462.51L1200.00,462.54L1200.50,462.57L1201.00,462.60L1201.50,462.63L1202.00,462.65L1202.50,462.68L1203.00,462.71L1203.50,462.74L1204.00,462.77L1204.50,462.79L1205.00,462.82L1205.50,462.85L1206.00,462.88L1206.50,462.90L1207.00,462.93L1207.50,462.96L1208.00,462.99L1208.20,463.00L1208.50,463.35L1209.00,463.93L1209.50,464.52L1210.00,465.10L1210.50,465.68L1211.00,466.27L1211.50,466.85L1212.00,467.43L1212.50,468.02L1213.00,468.60L1213.50,469.18L1213.60,469.30L1214.00,470.21L1214.50,471.34L1215.00,472.47L1215.40,473.38L1215.50,473.61L1216.00,474.74L1216.50,475.88L1217.00,477.01L1217.50,478.14L1218.00,479.28L1218.50,480.41L1219.00,481.55L1219.50,482.68L1220.00,483.81L1220.50,484.95L1220.70,485.40L1221.00,485.99L1221.50,486.99L1222.00,487.98L1222.50,488.97L1223.00,489.96L1223.50,490.95L1224.00,491.94L1224.50,492.93L1225.00,493.92L1225.50,494.91L1226.00,495.90L1226.10,496.10L1226.50,496.33L1227.00,496.62L1227.50,496.91L1228.00,497.20L1228.50,497.49L1229.00,497.78L1229.50,498.07L1230.00,498.36L1230.50,498.65L1231.00,498.94L1231.50,499.23L1232.00,499.52L1232.50,499.81L1233.00,500.10L1233.50,500.39L1234.00,500.68L1234.50,500.97L1235.00,501.26L1235.50,501.55L1236.00,501.84L1236.50,502.13L1236.80,502.30L1237.00,502.34L1237.50,502.43L1238.00,502.52L1238.50,502.61L1239.00,502.70L1239.50,502.79L1240.00,502.88L1240.50,502.97L1241.00,503.06L1241.50,503.15L1241.80,503.20L1241.80,437.50L1241.50,437.49L1241.00,437.48L1240.50,437.47L1240.00,437.45L1239.50,437.44L1239.00,437.43L1238.50,437.42L1238.00,437.40L1237.50,437.39L1237.00,437.38L1236.80,437.37L1236.50,437.36L1236.00,437.35L1235.50,437.34L1235.00,437.33L1234.50,437.31L1234.00,437.30L1233.50,437.29L1233.00,437.28L1232.50,437.26L1232.00,437.25L1231.50,437.24L1231.00,437.22L1230.50,437.21L1230.00,437.20L1229.50,437.19L1229.00,437.17L1228.50,437.16L1228.00,437.15L1227.50,437.14L1227.00,437.12L1226.50,437.11L1226.10,437.10L1226.00,436.99L1225.50,436.41L1225.00,435.84L1224.50,435.26L1224.00,434.69L1223.50,434.11L1223.00,433.54L1222.50,432.97L1222.00,432.39L1221.50,431.82L1221.00,431.24L1220.70,430.90L1220.50,430.80L1220.00,430.54L1219.50,430.29L1219.00,430.03L1218.50,429.78L1218.00,429.52L1217.50,429.27L1217.00,429.02L1216.50,428.76L1216.00,428.51L1215.50,428.25L1215.40,428.20L1215.00,427.61L1214.50,426.87L1214.00,426.13L1213.60,425.53L1213.50,425.39L1213.00,424.64L1212.50,423.90L1212.00,423.16L1211.50,422.42L1211.00,421.68L1210.50,420.94L1210.00,420.20L1209.50,420.18L1209.00,420.15L1208.50,420.13L1208.20,420.12L1208.00,420.11L1207.50,420.09L1207.00,420.06L1206.50,420.04L1206.00,420.02L1205.50,419.99L1205.00,419.97L1204.50,419.95L1204.00,419.92L1203.50,419.90L1203.00,419.88L1202.50,419.86L1202.00,419.83L1201.50,419.81L1201.00,419.79L1200.50,419.76L1200.00,419.74L1199.50,419.72L1199.00,419.69L1198.50,419.67L1198.00,419.65L1197.50,419.63L1197.00,419.60L1196.50,419.58L1196.00,419.56L1195.50,419.53L1195.00,419.51L1194.50,419.49L1194.00,419.47L1193.50,419.44L1193.00,419.42L1192.50,419.40L1192.10,419.38L1192.00,419.37L1191.50,419.35L1191.00,419.33L1190.50,419.30L1190.40,419.30L1190.00,419.12L1189.50,418.90L1189.00,418.68L1188.50,418.46L1188.00,418.24L1187.50,418.02L1187.00,417.80L1186.50,417.58L1186.00,417.36L1185.50,417.14L1185.00,416.92L1184.50,416.70L1184.00,416.48L1183.50,416.26L1183.00,416.04L1182.50,415.82L1182.00,415.60L1181.50,415.38L1181.00,415.16L1180.50,414.94L1180.00,414.72L1179.60,414.54L1179.50,414.50L1179.00,414.28L1178.50,414.06L1178.00,413.84L1177.50,413.62L1177.00,413.40L1176.50,413.18L1176.10,413.00L1176.00,413.00L1175.50,413.00L1175.00,413.00L1174.50,413.00L1174.30,413.00L1174.00,413.00L1173.50,413.00L1173.00,413.00L1172.50,413.00L1172.00,413.00L1171.50,413.00L1171.00,413.00L1170.50,413.00L1170.00,413.00L1169.50,413.00L1169.00,413.00L1168.50,413.00L1168.00,413.00L1167.50,413.00L1167.00,413.00L1166.50,413.00L1166.00,413.00L1165.50,413.00L1165.40,413.00L1165.00,413.00L1164.50,413.00L1164.00,413.00L1163.50,413.00L1163.00,413.00L1162.50,413.00L1162.00,413.00L1161.50,413.00L1161.00,413.00L1160.50,413.00L1160.00,413.00L1159.50,413.00L1159.00,413.00L1158.50,413.00L1158.00,413.00L1157.50,413.00L1157.00,413.00L1156.50,413.00L1156.40,413.00L1156.00,413.00L1155.50,413.00L1155.00,413.00L1154.50,413.00L1154.00,413.00L1153.50,413.00L1153.00,413.00L1152.50,413.00L1152.00,413.00L1151.50,413.00L1151.00,413.00L1150.50,413.00L1150.00,413.00L1149.50,413.00L1149.30,413.00L1149.00,413.00L1148.50,413.00L1148.00,413.00L1147.50,413.00L1147.00,413.00L1146.50,413.00L1146.00,413.00L1145.50,413.00L1145.00,413.00L1144.50,413.00L1144.00,413.00L1143.50,413.00L1143.00,413.00L1142.50,413.00L1142.10,413.00L1142.00,413.00L1141.50,413.00L1141.00,413.00L1140.50,413.00L1140.40,413.00L1140.00,412.97L1139.50,412.93L1139.00,412.88L1138.50,412.84L1138.00,412.80L1137.50,412.76L1137.00,412.72L1136.50,412.68L1136.00,412.63L1135.50,412.59L1135.00,412.55L1134.50,412.51L1134.00,412.47L1133.50,412.43L1133.00,412.38L1132.50,412.34L1132.00,412.30L1131.50,412.26L1131.00,412.22L1130.50,412.18L1130.00,412.13L1129.60,412.10L1129.50,411.97L1129.00,411.33L1128.50,410.68L1128.00,410.04L1127.90,409.91L1127.50,409.39L1127.00,408.75L1126.50,408.10L1126.00,407.45L1125.50,406.81L1125.00,406.16L1124.50,405.52L1124.00,404.87L1123.50,404.23L1123.40,404.10L1123.00,403.86L1122.50,403.56L1122.00,403.26L1121.50,402.96L1121.00,402.66L1120.70,402.48L1120.50,402.36L1120.00,402.06L1119.50,401.76L1119.00,401.46L1118.90,401.40L1118.50,400.80L1118.00,400.04L1117.50,399.29L1117.00,398.53L1116.50,397.78L1116.00,397.02L1115.50,396.27L1115.00,395.51L1114.50,394.76L1114.00,394.00L1113.60,393.40L1113.50,393.37L1113.00,393.20L1112.50,393.03L1112.00,392.87L1111.50,392.70L1111.00,392.53L1110.50,392.37L1110.00,392.20L1109.50,392.03L1109.00,391.87L1108.50,391.70L1108.00,391.53L1107.50,391.37L1107.30,391.30L1107.00,391.20L1106.50,391.03L1106.00,390.87L1105.50,390.70L1105.26,391.09Z"/><path fill="none" stroke="#a5d6a7" stroke-width="1.3" stroke-linejoin="round" d="M13.0,141.2L31.0,141.2L40.0,130.0L46.0,127.2L51.2,125.4L56.4,118.3L62.4,116.5L69.9,111.2L75.9,108.2L87.9,97.7L93.9,97.0L101.4,95.8L107.4,99.2L114.9,97.0L120.9,97.7L126.9,99.2L141.8,99.2L147.8,104.2L153.8,105.2L159.8,109.0L164.3,116.2L171.8,116.5L183.8,120.2L192.0,146.4L193.5,200.0L194.9,256.7L198.4,263.6L209.9,265.4L214.5,268.2L218.5,265.7L224.5,272.7L232.0,288.4L238.0,274.9L242.5,269.7L248.4,266.0L254.4,264.8L262.7,267.5L271.7,259.2L276.2,260.0L281.4,249.5L285.9,257.0L291.9,260.7L298.6,261.5L307.6,280.2L312.9,251.7L321.9,259.2L330.8,259.2L335.3,257.7L343.7,255.0L351.1,263.8L356.6,272.5L361.2,275.7L367.6,295.6L373.2,302.5L382.4,302.5L391.6,314.0L396.2,318.6L404.5,323.2L413.7,318.6L419.3,315.8L424.8,314.9L428.5,312.1L432.2,314.0L437.4,316.6L446.3,311.2L458.3,310.3L479.4,309.9L483.9,297.9L491.4,288.9L495.9,288.1L504.9,288.9L510.9,290.4L519.9,293.4L524.3,294.9L528.8,300.9L533.3,306.1L540.8,303.9L549.8,302.4L555.8,299.4L564.8,291.9L576.8,290.4L587.3,287.4L595.0,289.0L600.0,289.5L606.1,293.1L612.3,281.3L618.4,275.2L621.5,274.6L626.6,267.0L630.7,263.9L635.8,255.7L640.9,253.2L649.1,250.1L653.2,245.5L661.4,242.4L667.6,240.9L671.7,240.9L676.8,243.4L680.9,248.0L685.0,245.5L692.1,244.4L699.3,244.4L703.4,255.2L708.5,255.7L712.6,257.8L716.7,269.5L720.8,270.6L723.9,275.7L728.0,283.3L731.0,286.9L735.1,288.0L740.2,291.0L745.4,292.6L753.5,294.6L760.0,297.2L770.4,298.7L775.5,291.8L782.5,290.9L788.5,293.5L792.8,299.2L798.0,295.7L808.4,295.2L815.3,299.5L820.5,308.2L829.1,313.4L832.6,322.0L837.7,327.2L846.4,328.9L855.0,342.7L860.2,353.1L863.6,368.6L868.8,384.2L877.5,392.0L880.0,392.2L887.5,398.2L892.0,399.7L904.0,401.2L910.0,395.9L914.5,391.4L922.0,393.7L931.7,394.1L936.9,406.4L942.9,407.9L951.9,409.4L962.4,410.9L968.4,416.6L977.4,416.6L984.9,407.9L993.9,400.4L1002.8,394.4L1008.1,386.6L1017.8,385.1L1028.3,380.9L1034.3,374.2L1038.8,369.7L1044.8,369.7L1053.8,373.4L1060.0,368.4L1065.4,367.1L1071.6,367.1L1077.9,373.8L1082.3,379.1L1095.7,380.9L1102.9,380.9L1104.6,388.9L1107.3,397.9L1113.6,402.3L1120.7,410.4L1127.9,419.3L1135.0,423.8L1142.1,430.0L1149.3,437.1L1156.4,447.0L1165.4,451.4L1174.3,453.2L1179.6,452.3L1185.0,455.9L1192.1,462.1L1208.2,463.0L1213.6,469.3L1220.7,485.4L1226.1,496.1L1236.8,502.3L1241.8,503.2"/><path fill="none" stroke="#ef9a9a" stroke-width="1.3" stroke-linejoin="round" d="M13.0,192.9L38.5,192.1L42.2,182.4L47.5,178.6L74.4,178.6L80.4,173.4L84.9,171.6L92.4,171.1L97.6,162.9L101.4,161.4L107.4,153.6L119.4,153.2L123.9,151.2L151.6,151.2L156.1,145.2L164.3,144.2L169.6,141.2L173.3,126.6L183.8,121.0L186.8,122.5L191.3,135.9L192.8,147.9L193.5,160.0L193.8,192.2L194.9,238.2L196.1,250.9L312.9,250.2L316.6,252.5L335.3,253.2L339.1,263.7L366.7,263.8L378.7,272.0L388.8,272.5L392.5,277.1L415.6,277.6L420.2,295.6L425.3,316.3L428.5,299.2L430.3,287.3L504.9,287.4L510.9,290.4L514.6,303.1L545.3,303.1L550.6,311.4L601.0,311.6L605.5,301.4L610.2,294.6L615.4,291.5L621.5,290.5L626.6,282.8L631.7,279.3L635.3,275.7L723.9,275.7L730.0,277.7L829.1,277.4L832.6,290.0L846.4,290.9L851.6,301.3L860.2,306.5L863.6,322.0L868.8,341.9L896.5,342.7L907.0,343.5L910.0,357.7L936.9,358.5L939.9,369.7L950.4,370.4L954.2,376.4L1029.8,376.7L1049.3,377.9L1053.0,398.2L1060.0,398.8L1097.5,399.3L1103.8,393.4L1105.5,390.7L1113.6,393.4L1118.9,401.4L1123.4,404.1L1129.6,412.1L1140.4,413.0L1176.1,413.0L1190.4,419.3L1210.0,420.2L1215.4,428.2L1220.7,430.9L1226.1,437.1L1241.8,437.5"/>
<rect x="13" y="190.5" width="1138.5" height="24.0" fill="rgba(120,120,132,0.32)"/><line x1="13" y1="190.5" x2="1151.5" y2="190.5" stroke="#2a2e39" stroke-width="1.3"/><line x1="13" y1="202.5" x2="1151.5" y2="202.5" stroke="#2a2e39" stroke-width="1.3"/><line x1="13" y1="214.5" x2="1151.5" y2="214.5" stroke="#2a2e39" stroke-width="1.3"/><line x1="1152.5" y1="189.8" x2="1152.5" y2="215.2" stroke="#2a2e39" stroke-width="1.3"/>
<rect x="65.4" y="321.5" width="1086.1" height="19.0" fill="rgba(120,120,132,0.32)"/><line x1="65.4" y1="321.5" x2="1151.5" y2="321.5" stroke="#2a2e39" stroke-width="1.3"/><line x1="65.4" y1="331.5" x2="1151.5" y2="331.5" stroke="#2a2e39" stroke-width="1.3"/><line x1="65.4" y1="340.5" x2="1151.5" y2="340.5" stroke="#2a2e39" stroke-width="1.3"/><line x1="1152.5" y1="320.8" x2="1152.5" y2="341.2" stroke="#2a2e39" stroke-width="1.3"/>
<rect x="83.5" y="422.5" width="1082.0" height="21.0" fill="rgba(120,120,132,0.32)"/><line x1="83.5" y1="422.5" x2="1165.5" y2="422.5" stroke="#2a2e39" stroke-width="1.3"/><line x1="83.5" y1="433.5" x2="1162.5" y2="433.5" stroke="#2a2e39" stroke-width="1.3"/><line x1="83.5" y1="443.5" x2="1165.5" y2="443.5" stroke="#2a2e39" stroke-width="1.3"/><line x1="1165.5" y1="421.8" x2="1165.5" y2="444.2" stroke="#2a2e39" stroke-width="1.3"/>
<line x1="84.3" y1="200" x2="84.3" y2="438.3" stroke="#000" stroke-width="1.2"/>
<line x1="528.2" y1="205.4" x2="1133.6" y2="393.4" stroke="#131313" stroke-width="1.6"/>
<line x1="254.2" y1="384.5" x2="1182.5" y2="547.8" stroke="#131313" stroke-width="1.6"/>
<line x1="13" y1="438.5" x2="1458" y2="438.5" stroke="#673ab7" stroke-width="1.2"/>
<line x1="16" y1="500.5" x2="1398" y2="500.5" stroke="#2962ff" stroke-width="1.3" stroke-dasharray="1.2 1.8"/>
<path fill="#2962ff" d="M12,121.7h1V128.7h-1zM13,122.5h1v6.0h-1zM16,105.2h1V122.8h-1zM15,109.0h3v13.5h-3zM25,90.2h1V118.7h-1zM24,97.0h3v21.0h-3zM43,118.0h1V137.4h-1zM42,120.2h3v1.5h-3zM57,128.4h1V141.9h-1zM56,130.7h3v10.9h-3zM70,128.4h1V139.7h-1zM69,129.9h3v9.7h-3zM97,271.2h1V300.7h-1zM96,273.4h3v25.5h-3zM120,281.6h1V302.6h-1zM119,286.1h3v16.5h-3zM124,277.2h1V291.4h-1zM123,280.9h3v5.7h-3zM129,239.3h1V287.6h-1zM128,244.2h3v37.5h-3zM133,223.2h1V244.9h-1zM132,226.2h3v18.4h-3zM138,212.0h1V232.7h-1zM137,221.0h3v6.0h-3zM147,206.0h1V228.5h-1zM146,209.7h3v13.5h-3zM156,210.2h1V235.7h-1zM155,225.2h3v6.6h-3zM160,199.0h1V225.8h-1zM159,200.4h3v25.4h-3zM182,244.9h1V291.7h-1zM181,244.9h3v26.7h-3zM191,236.0h1V253.9h-1zM190,242.4h3v7.0h-3zM200,244.2h1V256.6h-1zM199,244.9h3v7.5h-3zM214,267.2h1V283.6h-1zM213,273.4h3v1.5h-3zM223,263.0h1V281.7h-1zM222,270.1h3v8.5h-3zM232,261.2h1V291.4h-1zM231,264.2h3v13.5h-3zM245,307.2h1V322.6h-1zM244,310.9h3v1.5h-3zM250,298.2h1V314.6h-1zM249,299.7h3v12.0h-3zM259,336.9h1V377.8h-1zM258,347.2h3v6.4h-3zM263,335.1h1V363.6h-1zM262,335.7h3v11.8h-3zM272,323.2h1V339.7h-1zM271,337.1h3v1.0h-3zM277,323.2h1V337.9h-1zM276,325.9h3v11.7h-3zM281,316.1h1V333.7h-1zM280,325.9h3v1.0h-3zM286,320.6h1V328.9h-1zM285,321.7h3v5.4h-3zM295,321.4h1V332.6h-1zM294,322.1h3v4.5h-3zM299,319.1h1V326.6h-1zM298,322.9h3v1.0h-3zM304,319.1h1V329.6h-1zM303,319.9h3v2.2h-3zM313,306.1h1V336.7h-1zM312,313.1h3v14.2h-3zM317,304.2h1V321.4h-1zM316,305.7h3v8.2h-3zM322,294.1h1V308.7h-1zM321,303.4h3v3.7h-3zM331,285.1h1V323.6h-1zM330,288.1h3v18.6h-3zM335,272.2h1V289.6h-1zM334,276.7h3v12.0h-3zM344,269.3h1V284.7h-1zM343,277.2h3v3.4h-3zM366,307.2h1V321.4h-1zM365,309.1h3v4.5h-3zM371,249.2h1V315.7h-1zM370,251.0h3v58.4h-3zM389,309.1h1V322.1h-1zM388,314.3h3v1.0h-3zM398,307.2h1V326.6h-1zM397,314.6h3v9.7h-3zM411,314.4h1V329.0h-1zM410,318.1h3v9.7h-3zM416,294.1h1V318.9h-1zM415,303.9h3v15.0h-3zM425,291.9h1V313.6h-1zM424,297.1h3v9.7h-3zM429,281.4h1V300.1h-1zM428,295.6h3v3.0h-3zM438,288.1h1V297.9h-1zM437,291.1h3v6.4h-3zM443,275.1h1V292.6h-1zM442,282.2h3v9.4h-3zM447,276.2h1V287.4h-1zM446,282.2h3v1.0h-3zM456,282.2h1V299.1h-1zM455,285.9h3v9.7h-3zM461,279.2h1V286.6h-1zM460,280.7h3v6.0h-3zM470,273.2h1V281.7h-1zM469,278.1h3v3.3h-3zM474,273.2h1V279.9h-1zM473,276.2h3v3.0h-3zM483,270.2h1V278.7h-1zM482,270.9h3v7.2h-3zM497,270.2h1V277.7h-1zM496,270.9h3v6.7h-3zM501,247.2h1V271.7h-1zM500,249.2h3v22.5h-3zM506,239.2h1V249.9h-1zM505,243.2h3v6.4h-3zM515,223.0h1V252.9h-1zM514,231.2h3v15.7h-3zM519,217.0h1V233.5h-1zM518,224.2h3v7.8h-3zM524,209.2h1V224.5h-1zM523,220.0h3v4.5h-3zM537,214.7h1V228.7h-1zM536,227.2h3v1.5h-3zM550,235.0h1V247.7h-1zM549,238.0h3v3.7h-3zM555,232.3h1V238.7h-1zM554,236.5h3v1.5h-3zM559,217.0h1V241.7h-1zM558,235.7h3v2.2h-3zM577,251.1h1V263.7h-1zM576,251.1h3v12.3h-3zM600,274.2h1V291.7h-1zM599,278.2h3v12.7h-3zM604,270.7h1V311.6h-1zM603,272.7h3v6.0h-3zM622,317.9h1V346.4h-1zM621,318.2h3v26.7h-3zM627,299.2h1V318.7h-1zM626,308.2h3v10.5h-3zM631,296.2h1V308.6h-1zM630,305.2h3v3.4h-3zM636,293.2h1V307.7h-1zM635,293.2h3v12.7h-3zM654,294.3h1V304.7h-1zM653,295.1h3v7.5h-3zM663,293.2h1V297.7h-1zM662,294.7h3v1.9h-3zM667,292.2h1V300.7h-1zM666,293.2h3v3.0h-3zM685,283.2h1V296.9h-1zM684,284.7h3v12.0h-3zM690,283.8h1V295.7h-1zM689,284.7h3v1.0h-3zM699,297.2h1V304.7h-1zM698,298.7h3v1.2h-3zM703,288.0h1V304.7h-1zM702,289.8h3v10.2h-3zM717,331.1h1V347.6h-1zM716,335.9h3v1.0h-3zM726,342.2h1V373.7h-1zM725,354.2h3v14.2h-3zM734,350.2h1V369.7h-1zM733,350.8h3v9.9h-3zM743,383.1h1V398.7h-1zM742,383.7h3v7.2h-3zM757,422.1h1V470.3h-1zM756,426.1h3v14.5h-3zM761,414.2h1V461.6h-1zM760,415.7h3v10.9h-3zM775,394.7h1V418.7h-1zM774,395.1h3v22.5h-3zM779,384.2h1V403.7h-1zM778,388.7h3v6.7h-3zM797,398.1h1V407.7h-1zM796,399.9h3v1.8h-3zM815,409.2h1V429.6h-1zM814,413.7h3v10.9h-3zM820,406.2h1V417.6h-1zM819,408.9h3v6.0h-3zM829,419.4h1V447.6h-1zM828,422.1h3v11.5h-3zM833,382.2h1V427.6h-1zM832,382.7h3v41.2h-3zM860,399.2h1V410.7h-1zM859,403.2h3v6.0h-3zM865,397.2h1V404.1h-1zM864,399.2h3v4.5h-3zM874,401.4h1V410.4h-1zM873,401.4h3v9.0h-3zM878,398.4h1V409.7h-1zM877,398.7h3v3.0h-3zM883,373.4h1V399.7h-1zM882,377.9h3v21.0h-3zM887,362.7h1V382.7h-1zM886,363.3h3v15.4h-3zM896,342.0h1V371.6h-1zM895,346.8h3v18.9h-3zM901,342.0h1V350.7h-1zM900,344.2h3v3.7h-3zM914,349.2h1V365.7h-1zM913,352.5h3v9.0h-3zM918,345.0h1V359.7h-1zM917,349.2h3v3.3h-3zM923,325.5h1V355.8h-1zM922,342.3h3v7.2h-3zM932,357.3h1V367.8h-1zM931,359.2h3v8.2h-3zM950,386.2h1V396.7h-1zM949,388.1h3v4.8h-3zM959,361.2h1V391.7h-1zM958,363.7h3v28.0h-3zM972,401.2h1V411.6h-1zM971,404.9h3v6.0h-3zM977,388.1h1V412.7h-1zM976,394.1h3v11.5h-3zM981,371.2h1V400.7h-1zM980,378.7h3v16.0h-3zM999,426.2h1V457.2h-1zM998,435.8h3v11.7h-3zM1017,455.0h1V494.7h-1zM1016,463.2h3v11.5h-3zM1031,462.2h1V489.7h-1zM1030,466.2h3v23.5h-3zM1044,465.1h1V477.7h-1zM1043,468.1h3v8.5h-3zM1058,469.2h1V485.7h-1zM1057,470.2h3v6.4h-3zM1062,465.7h1V472.6h-1zM1061,466.2h3v4.5h-3zM1080,488.2h1V510.7h-1zM1079,493.2h3v4.5h-3zM1085,476.2h1V499.6h-1zM1084,476.7h3v17.5h-3zM1089,471.1h1V481.6h-1zM1088,474.1h3v3.6h-3zM1093,469.2h1V476.7h-1zM1092,472.9h3v1.0h-3zM1107,517.1h1V532.6h-1zM1106,519.1h3v9.6h-3zM1120,517.1h1V531.7h-1zM1119,519.7h3v12.0h-3zM1125,501.1h1V528.1h-1zM1124,504.1h3v17.1h-3zM1129,490.9h1V507.7h-1zM1128,499.9h3v5.2h-3z"/><path fill="#000000" d="M21,102.2h1V122.5h-1zM20,109.0h3v9.0h-3zM30,94.0h1V103.7h-1zM29,97.0h3v3.7h-3zM34,99.2h1V128.4h-1zM33,99.7h3v19.8h-3zM39,116.5h1V123.2h-1zM38,119.2h3v3.0h-3zM48,108.2h1V145.7h-1zM47,120.2h3v20.2h-3zM52,137.4h1V156.9h-1zM51,140.1h3v1.0h-3zM61,126.2h1V138.9h-1zM60,131.4h3v3.7h-3zM66,125.1h1V139.7h-1zM65,134.4h3v5.2h-3zM75,118.0h1V181.6h-1zM74,129.9h3v44.9h-3zM79,166.6h1V210.1h-1zM78,174.1h3v27.7h-3zM84,194.4h1V280.9h-1zM83,201.1h3v79.8h-3zM88,265.2h1V302.6h-1zM87,280.1h3v1.0h-3zM93,270.1h1V300.4h-1zM92,280.9h3v18.0h-3zM102,271.2h1V284.6h-1zM101,274.2h3v5.2h-3zM106,273.4h1V298.9h-1zM105,279.4h3v15.0h-3zM111,292.1h1V319.9h-1zM110,293.6h3v6.7h-3zM115,294.4h1V317.6h-1zM114,300.1h3v2.5h-3zM142,208.2h1V224.7h-1zM141,221.0h3v3.0h-3zM151,206.0h1V239.7h-1zM150,210.2h3v21.3h-3zM165,198.0h1V207.5h-1zM164,202.6h3v4.1h-3zM169,197.8h1V232.2h-1zM168,206.0h3v23.2h-3zM174,227.7h1V272.7h-1zM173,229.2h3v38.2h-3zM178,259.9h1V289.9h-1zM177,267.4h3v4.2h-3zM187,235.2h1V259.9h-1zM186,244.9h3v4.5h-3zM196,233.3h1V256.2h-1zM195,242.4h3v10.8h-3zM205,227.7h1V256.2h-1zM204,244.9h3v9.3h-3zM209,250.2h1V279.4h-1zM208,254.0h3v21.7h-3zM218,269.3h1V284.7h-1zM217,273.4h3v5.2h-3zM227,263.3h1V277.6h-1zM226,270.4h3v6.3h-3zM236,257.3h1V307.6h-1zM235,264.2h3v42.2h-3zM241,292.2h1V318.7h-1zM240,305.2h3v7.5h-3zM254,299.2h1V353.6h-1zM253,300.1h3v53.5h-3zM268,325.1h1V342.7h-1zM267,336.1h3v2.5h-3zM290,319.1h1V331.1h-1zM289,321.7h3v4.9h-3zM308,319.9h1V329.6h-1zM307,320.3h3v7.0h-3zM326,295.9h1V307.6h-1zM325,303.4h3v3.7h-3zM340,271.2h1V284.7h-1zM339,277.2h3v3.4h-3zM349,277.2h1V294.7h-1zM348,277.2h3v3.7h-3zM353,275.2h1V285.7h-1zM352,280.2h3v3.7h-3zM358,282.7h1V302.7h-1zM357,282.7h3v19.9h-3zM362,302.2h1V321.1h-1zM361,302.2h3v11.4h-3zM375,245.0h1V276.4h-1zM374,251.0h3v21.7h-3zM380,271.2h1V316.6h-1zM379,271.9h3v42.7h-3zM384,310.1h1V321.1h-1zM383,314.3h3v1.0h-3zM393,314.2h1V333.4h-1zM392,314.2h3v9.4h-3zM402,310.6h1V328.6h-1zM401,315.1h3v9.7h-3zM407,321.1h1V335.0h-1zM406,323.4h3v4.5h-3zM420,295.6h1V306.9h-1zM419,303.9h3v2.7h-3zM434,294.9h1V305.7h-1zM433,295.2h3v2.4h-3zM452,266.1h1V296.4h-1zM451,282.2h3v13.9h-3zM465,278.4h1V285.9h-1zM464,280.7h3v1.0h-3zM479,270.9h1V277.7h-1zM478,276.2h3v1.5h-3zM488,270.9h1V274.7h-1zM487,272.4h3v1.0h-3zM492,269.1h1V277.7h-1zM491,272.1h3v5.5h-3zM510,243.2h1V248.7h-1zM509,243.7h3v3.3h-3zM528,219.2h1V230.8h-1zM527,220.0h3v4.5h-3zM533,223.7h1V236.8h-1zM532,224.2h3v4.5h-3zM542,227.2h1V242.8h-1zM541,227.2h3v12.3h-3zM546,233.2h1V245.7h-1zM545,239.2h3v2.5h-3zM564,224.2h1V250.7h-1zM563,236.2h3v13.5h-3zM568,249.2h1V271.7h-1zM567,249.2h3v12.4h-3zM573,258.2h1V267.9h-1zM572,261.2h3v2.2h-3zM582,251.1h1V260.7h-1zM581,251.4h3v2.2h-3zM586,247.2h1V273.9h-1zM585,252.9h3v21.0h-3zM591,261.2h1V299.7h-1zM590,273.2h3v8.5h-3zM595,266.1h1V291.6h-1zM594,281.1h3v7.5h-3zM609,272.2h1V294.7h-1zM608,272.7h3v22.0h-3zM613,293.2h1V328.4h-1zM612,293.7h3v31.8h-3zM618,317.9h1V345.6h-1zM617,324.7h3v20.2h-3zM640,286.2h1V305.6h-1zM639,293.2h3v3.4h-3zM645,292.2h1V314.6h-1zM644,295.7h3v1.0h-3zM649,297.2h1V304.7h-1zM648,297.2h3v6.0h-3zM658,291.3h1V298.7h-1zM657,294.7h3v2.5h-3zM672,289.2h1V295.1h-1zM671,292.8h3v1.0h-3zM676,290.2h1V297.7h-1zM675,292.8h3v3.9h-3zM681,293.2h1V297.7h-1zM680,294.3h3v2.7h-3zM694,284.7h1V299.6h-1zM693,285.0h3v14.7h-3zM708,286.8h1V331.4h-1zM707,290.2h3v41.2h-3zM712,327.7h1V343.4h-1zM711,331.4h3v6.0h-3zM721,328.1h1V371.6h-1zM720,335.9h3v33.0h-3zM730,353.2h1V370.7h-1zM729,353.8h3v6.9h-3zM739,349.0h1V393.2h-1zM738,350.5h3v41.2h-3zM748,376.0h1V403.7h-1zM747,384.2h3v13.5h-3zM752,393.2h1V444.9h-1zM751,396.9h3v43.7h-3zM766,412.2h1V422.1h-1zM765,416.4h3v1.0h-3zM770,416.1h1V428.7h-1zM769,416.4h3v1.0h-3zM784,382.2h1V396.6h-1zM783,389.1h3v1.8h-3zM788,388.2h1V405.6h-1zM787,390.9h3v1.8h-3zM793,386.4h1V404.7h-1zM792,392.1h3v9.6h-3zM802,396.2h1V423.6h-1zM801,399.9h3v21.7h-3zM806,411.2h1V438.1h-1zM805,420.1h3v1.9h-3zM811,419.4h1V431.7h-1zM810,422.1h3v1.0h-3zM824,409.2h1V440.7h-1zM823,409.2h3v23.4h-3zM838,374.2h1V387.6h-1zM837,383.1h3v2.5h-3zM842,381.2h1V393.6h-1zM841,384.9h3v6.0h-3zM847,385.2h1V399.6h-1zM846,390.2h3v3.7h-3zM851,389.1h1V401.7h-1zM850,392.7h3v9.0h-3zM856,398.1h1V409.7h-1zM855,401.1h3v7.8h-3zM869,398.4h1V412.7h-1zM868,399.2h3v11.5h-3zM892,356.2h1V371.6h-1zM891,363.3h3v2.4h-3zM905,339.3h1V350.7h-1zM904,344.2h3v1.0h-3zM910,339.3h1V365.7h-1zM909,344.2h3v17.2h-3zM927,340.5h1V367.8h-1zM926,342.3h3v25.5h-3zM936,356.2h1V382.7h-1zM935,359.2h3v22.0h-3zM941,377.2h1V388.7h-1zM940,380.2h3v7.5h-3zM945,386.2h1V397.7h-1zM944,386.9h3v6.7h-3zM954,383.2h1V391.7h-1zM953,388.4h3v3.0h-3zM963,360.0h1V400.7h-1zM962,364.2h3v36.6h-3zM968,398.2h1V416.6h-1zM967,399.7h3v12.0h-3zM986,374.2h1V389.6h-1zM985,378.7h3v6.0h-3zM990,380.2h1V408.7h-1zM989,384.2h3v22.9h-3zM995,405.7h1V452.5h-1zM994,406.1h3v43.7h-3zM1004,434.0h1V448.7h-1zM1003,436.2h3v7.0h-3zM1008,442.2h1V476.7h-1zM1007,443.0h3v16.8h-3zM1013,456.5h1V478.6h-1zM1012,459.2h3v15.6h-3zM1022,453.2h1V481.6h-1zM1021,463.2h3v6.4h-3zM1026,468.4h1V496.6h-1zM1025,468.7h3v21.0h-3zM1035,463.2h1V470.7h-1zM1034,466.2h3v1.0h-3zM1040,467.2h1V476.7h-1zM1039,467.2h3v9.4h-3zM1049,464.3h1V474.7h-1zM1048,468.1h3v1.0h-3zM1053,469.2h1V481.6h-1zM1052,469.2h3v7.5h-3zM1067,459.2h1V476.7h-1zM1066,466.2h3v9.7h-3zM1071,471.1h1V492.7h-1zM1070,475.2h3v16.9h-3zM1076,480.1h1V504.7h-1zM1075,490.9h3v6.7h-3zM1098,468.1h1V500.7h-1zM1097,472.9h3v27.3h-3zM1102,490.2h1V528.7h-1zM1101,496.2h3v32.5h-3zM1111,517.1h1V544.9h-1zM1110,519.1h3v9.6h-3zM1116,528.1h1V545.6h-1zM1115,528.4h3v3.3h-3z"/>
<rect x="1176.3" y="156.2" width="65.60000000000014" height="30.600000000000023" rx="5" fill="#ffffff" stroke="#2962ff" stroke-width="2.2"/><polygon points="1180.3,186.60000000000002 1191.3,186.60000000000002 1166.9,203.8" fill="#ffffff" stroke="#2962ff" stroke-width="2.2" stroke-linejoin="miter"/><rect x="1181.3" y="184.5" width="9.0" height="2.2" fill="#ffffff"/><circle cx="1165.4" cy="205.3" r="3.2" fill="#2962ff" stroke="#ffffff" stroke-width="1"/><text x="1190.21" y="176.9" font-family='"Liberation Sans", sans-serif' font-size="18.2" font-weight="bold" fill="#2962ff" textLength="39.51" lengthAdjust="spacingAndGlyphs">3.9T</text>
<rect x="1185.7" y="279.1" width="75.0" height="30.19999999999999" rx="5" fill="#ffffff" stroke="#2962ff" stroke-width="2.2"/><polygon points="1189.7,309.1 1200.7,309.1 1175.7,326.7" fill="#ffffff" stroke="#2962ff" stroke-width="2.2" stroke-linejoin="miter"/><rect x="1190.7" y="307.0" width="9.0" height="2.2" fill="#ffffff"/><circle cx="1174.2" cy="328.2" r="3.2" fill="#2962ff" stroke="#ffffff" stroke-width="1"/><text x="1198.72" y="300" font-family='"Liberation Sans", sans-serif' font-size="18.2" font-weight="bold" fill="#2962ff" textLength="49.52" lengthAdjust="spacingAndGlyphs">3.58T</text>
<rect x="1176.8" y="385.4" width="74.90000000000009" height="29.80000000000001" rx="5" fill="#ffffff" stroke="#2962ff" stroke-width="2.2"/><polygon points="1180.8,415.0 1191.8,415.0 1166.7,432.8" fill="#ffffff" stroke="#2962ff" stroke-width="2.2" stroke-linejoin="miter"/><rect x="1181.8" y="412.9" width="9.0" height="2.2" fill="#ffffff"/><circle cx="1165.2" cy="434.3" r="3.2" fill="#2962ff" stroke="#ffffff" stroke-width="1"/><text x="1190.11" y="406.1" font-family='"Liberation Sans", sans-serif' font-size="18.2" font-weight="bold" fill="#2962ff" textLength="50.23" lengthAdjust="spacingAndGlyphs">3.31T</text>
</g>
<path d="M1137.2,567.3 A11.6,11.6 0 1 0 1140.3,577.8" fill="none" stroke="#9c27b0" stroke-width="1.7"/><path d="M1133.2,568.6 L1124.4,577.2 L1129.8,577.2 L1125.4,582.4 L1134.8,573.9 L1129.2,573.9 Z" fill="#9c27b0" stroke="#9c27b0" stroke-width="0.6" stroke-linejoin="round"/><circle cx="1155.0" cy="575.6" r="12.2" fill="#f23645"/><circle cx="1155.0" cy="575.6" r="10.4" fill="#ffffff"/><clipPath id="fc11550"><circle cx="1155.0" cy="575.6" r="9.6"/></clipPath><g clip-path="url(#fc11550)"><rect x="1145.0" y="565.6" width="20" height="4.2" fill="#ef5350"/><rect x="1145.0" y="573.9" width="20" height="3.8" fill="#ef5350"/><rect x="1145.0" y="581.2" width="20" height="4.4" fill="#ef5350"/><rect x="1145.0" y="565.6" width="12" height="12.1" fill="#1e88e5"/><rect x="1147.3" y="567.5" width="1.4" height="1.4" fill="#ffffff"/><rect x="1147.3" y="570.9" width="1.4" height="1.4" fill="#ffffff"/><rect x="1147.3" y="574.3" width="1.4" height="1.4" fill="#ffffff"/><rect x="1150.3" y="567.5" width="1.4" height="1.4" fill="#ffffff"/><rect x="1150.3" y="570.9" width="1.4" height="1.4" fill="#ffffff"/><rect x="1150.3" y="574.3" width="1.4" height="1.4" fill="#ffffff"/><rect x="1153.3" y="567.5" width="1.4" height="1.4" fill="#ffffff"/><rect x="1153.3" y="570.9" width="1.4" height="1.4" fill="#ffffff"/><rect x="1153.3" y="574.3" width="1.4" height="1.4" fill="#ffffff"/></g><circle cx="1152.0" cy="575.6" r="12.2" fill="#f23645"/><circle cx="1152.0" cy="575.6" r="10.4" fill="#ffffff"/><clipPath id="fc11520"><circle cx="1152.0" cy="575.6" r="9.6"/></clipPath><g clip-path="url(#fc11520)"><rect x="1142.0" y="565.6" width="20" height="4.2" fill="#ef5350"/><rect x="1142.0" y="573.9" width="20" height="3.8" fill="#ef5350"/><rect x="1142.0" y="581.2" width="20" height="4.4" fill="#ef5350"/><rect x="1142.0" y="565.6" width="12" height="12.1" fill="#1e88e5"/><rect x="1144.3" y="567.5" width="1.4" height="1.4" fill="#ffffff"/><rect x="1144.3" y="570.9" width="1.4" height="1.4" fill="#ffffff"/><rect x="1144.3" y="574.3" width="1.4" height="1.4" fill="#ffffff"/><rect x="1147.3" y="567.5" width="1.4" height="1.4" fill="#ffffff"/><rect x="1147.3" y="570.9" width="1.4" height="1.4" fill="#ffffff"/><rect x="1147.3" y="574.3" width="1.4" height="1.4" fill="#ffffff"/><rect x="1150.3" y="567.5" width="1.4" height="1.4" fill="#ffffff"/><rect x="1150.3" y="570.9" width="1.4" height="1.4" fill="#ffffff"/><rect x="1150.3" y="574.3" width="1.4" height="1.4" fill="#ffffff"/></g><circle cx="1179.2" cy="575.6" r="12.2" fill="#f23645"/><circle cx="1179.2" cy="575.6" r="10.4" fill="#ffffff"/><clipPath id="fc11792"><circle cx="1179.2" cy="575.6" r="9.6"/></clipPath><g clip-path="url(#fc11792)"><rect x="1169.2" y="565.6" width="20" height="4.2" fill="#ef5350"/><rect x="1169.2" y="573.9" width="20" height="3.8" fill="#ef5350"/><rect x="1169.2" y="581.2" width="20" height="4.4" fill="#ef5350"/><rect x="1169.2" y="565.6" width="12" height="12.1" fill="#1e88e5"/><rect x="1171.5" y="567.5" width="1.4" height="1.4" fill="#ffffff"/><rect x="1171.5" y="570.9" width="1.4" height="1.4" fill="#ffffff"/><rect x="1171.5" y="574.3" width="1.4" height="1.4" fill="#ffffff"/><rect x="1174.5" y="567.5" width="1.4" height="1.4" fill="#ffffff"/><rect x="1174.5" y="570.9" width="1.4" height="1.4" fill="#ffffff"/><rect x="1174.5" y="574.3" width="1.4" height="1.4" fill="#ffffff"/><rect x="1177.5" y="567.5" width="1.4" height="1.4" fill="#ffffff"/><rect x="1177.5" y="570.9" width="1.4" height="1.4" fill="#ffffff"/><rect x="1177.5" y="574.3" width="1.4" height="1.4" fill="#ffffff"/></g><circle cx="1138" cy="566.8" r="3.1" fill="#f23645"/>
<line x1="14" y1="592.5" x2="1549" y2="592.5" stroke="#e3e4e8" stroke-width="1"/>
<rect x="13" y="622.5" width="1445" height="88.0" fill="#f1edfa"/><defs><linearGradient id="os" gradientUnits="userSpaceOnUse" x1="0" y1="710.2" x2="0" y2="737"><stop offset="0" stop-color="#ffffff" stop-opacity="0"/><stop offset="1" stop-color="#f39090"/></linearGradient><linearGradient id="ob" gradientUnits="userSpaceOnUse" x1="0" y1="622.3" x2="0" y2="600"><stop offset="0" stop-color="#ffffff" stop-opacity="0"/><stop offset="1" stop-color="#b9e0bb"/></linearGradient><clipPath id="below30"><rect x="0" y="710.5" width="1563" height="40"/></clipPath><clipPath id="above70"><rect x="0" y="595" width="1563" height="27.5"/></clipPath></defs><path d="M13.3,670.1L16.7,662.6L20.4,668.8L25.9,653.1L30.4,655.1L34.2,671.5L38.4,673.5L43.1,672.6L48.1,687.7L53.1,687.7L56.8,678.2L61.8,681.0L65.6,684.3L70.1,674.8L74.3,703.5L78.5,713.6L83.5,734.4L87.7,735.3L92.7,738.3L96.5,719.4L101.0,720.6L106.0,724.4L110.2,726.1L115.2,726.4L119.4,713.2L124.4,708.2L129.4,682.7L132.7,671.5L137.8,668.8L141.9,670.1L146.6,662.6L151.6,673.8L156.1,670.1L160.3,657.6L164.5,659.8L167.8,668.8L172.8,691.0L177.8,691.9L182.0,676.8L187.0,678.2L191.7,673.8L195.4,679.8L200.4,675.2L205.4,679.3L208.7,689.3L213.7,688.5L217.9,691.0L222.9,685.2L227.9,687.7L231.8,678.5L236.8,698.5L241.3,702.2L245.5,701.0L250.5,692.2L254.2,712.7L258.4,708.6L263.0,699.7L267.5,700.5L271.7,699.7L276.7,691.0L281.7,690.2L285.4,686.8L290.1,689.7L294.3,686.0L299.3,686.0L304.3,683.8L308.1,688.5L312.6,674.3L316.8,667.6L321.8,664.3L326.5,667.6L330.2,651.8L335.2,643.4L339.3,647.3L344.4,644.8L348.5,648.4L353.2,652.6L357.7,671.0L361.6,681.5L366.6,676.8L370.6,634.7L375.3,650.1L380.3,677.2L384.4,677.7L388.6,676.8L392.8,681.8L397.8,676.5L402.0,681.0L406.6,683.2L411.2,676.0L415.3,665.5L420.0,667.1L425.0,660.1L429.5,658.8L433.7,660.1L437.9,655.1L442.9,648.4L447.1,648.4L451.7,661.5L456.7,654.3L460.8,650.4L465.4,650.4L470.1,647.1L474.6,645.4L479.1,647.1L483.5,642.1L488.0,642.6L491.7,650.4L496.7,643.4L501.7,624.2L505.9,620.4L510.4,625.1L514.2,615.0L519.2,610.9L523.9,608.7L528.4,616.7L532.6,623.0L536.8,622.0L541.8,641.8L545.4,645.1L550.5,641.4L555.1,640.9L559.3,639.2L563.5,656.8L567.7,676.0L572.7,678.2L577.7,662.6L581.5,665.5L586.5,686.8L591.0,694.9L595.5,699.4L600.2,686.8L604.1,679.8L608.6,695.2L612.2,713.6L617.8,723.1L621.9,696.5L626.6,687.7L631.6,684.8L635.6,675.5L640.3,676.8L645.0,678.2L649.0,681.0L654.0,674.3L657.8,676.0L662.0,674.3L666.7,671.8L671.2,671.8L675.7,673.8L680.0,675.5L685.1,661.8L689.1,661.8L693.7,678.5L699.1,678.5L702.9,666.0L707.9,701.5L711.8,705.2L716.8,704.9L720.5,721.1L725.1,704.9L730.0,707.7L734.2,697.7L739.2,715.6L743.0,709.4L748.0,714.9L753.0,728.3L756.7,716.9L761.7,707.7L770.4,707.7L775.4,689.3L779.6,684.3L788.1,686.5L793.1,691.9L797.6,691.0L801.8,702.2L810.2,703.9L815.2,693.5L819.3,688.5L824.4,702.7L829.4,693.5L832.7,660.5L836.9,661.8L841.6,666.0L846.6,668.5L851.1,673.5L855.6,678.8L860.3,675.2L864.4,671.0L869.4,678.8L874.0,671.8L877.8,668.5L882.8,653.4L887.0,641.8L891.7,643.8L895.3,632.6L900.0,630.4L905.0,630.6L909.0,648.9L913.7,643.4L918.7,640.1L922.9,635.9L927.9,661.0L931.7,655.4L936.7,671.5L940.8,676.8L945.4,681.0L950.1,677.2L954.1,678.8L959.1,656.8L963.0,681.0L968.0,686.8L970.0,685.5L972.5,683.2L977.5,673.5L981.7,663.1L985.9,667.1L990.4,681.0L994.2,701.0L999.2,692.2L1004.2,695.2L1008.4,701.9L1013.1,707.7L1016.8,698.9L1021.4,701.5L1026.8,709.9L1030.5,691.5L1034.8,691.9L1039.3,696.0L1044.3,690.2L1048.8,690.5L1053.2,693.9L1057.7,689.8L1061.5,685.5L1066.5,691.5L1071.5,700.2L1075.5,702.7L1080.2,699.4L1084.4,682.7L1088.9,680.2L1093.2,680.5L1098.3,695.2L1102.8,710.6L1106.6,702.2L1112.0,706.9L1115.6,707.7L1120.3,696.5L1125.3,682.2L1129.5,678.8L1129.5,710.5L13.3,710.5z" fill="url(#os)" clip-path="url(#below30)"/><path d="M13.3,670.1L16.7,662.6L20.4,668.8L25.9,653.1L30.4,655.1L34.2,671.5L38.4,673.5L43.1,672.6L48.1,687.7L53.1,687.7L56.8,678.2L61.8,681.0L65.6,684.3L70.1,674.8L74.3,703.5L78.5,713.6L83.5,734.4L87.7,735.3L92.7,738.3L96.5,719.4L101.0,720.6L106.0,724.4L110.2,726.1L115.2,726.4L119.4,713.2L124.4,708.2L129.4,682.7L132.7,671.5L137.8,668.8L141.9,670.1L146.6,662.6L151.6,673.8L156.1,670.1L160.3,657.6L164.5,659.8L167.8,668.8L172.8,691.0L177.8,691.9L182.0,676.8L187.0,678.2L191.7,673.8L195.4,679.8L200.4,675.2L205.4,679.3L208.7,689.3L213.7,688.5L217.9,691.0L222.9,685.2L227.9,687.7L231.8,678.5L236.8,698.5L241.3,702.2L245.5,701.0L250.5,692.2L254.2,712.7L258.4,708.6L263.0,699.7L267.5,700.5L271.7,699.7L276.7,691.0L281.7,690.2L285.4,686.8L290.1,689.7L294.3,686.0L299.3,686.0L304.3,683.8L308.1,688.5L312.6,674.3L316.8,667.6L321.8,664.3L326.5,667.6L330.2,651.8L335.2,643.4L339.3,647.3L344.4,644.8L348.5,648.4L353.2,652.6L357.7,671.0L361.6,681.5L366.6,676.8L370.6,634.7L375.3,650.1L380.3,677.2L384.4,677.7L388.6,676.8L392.8,681.8L397.8,676.5L402.0,681.0L406.6,683.2L411.2,676.0L415.3,665.5L420.0,667.1L425.0,660.1L429.5,658.8L433.7,660.1L437.9,655.1L442.9,648.4L447.1,648.4L451.7,661.5L456.7,654.3L460.8,650.4L465.4,650.4L470.1,647.1L474.6,645.4L479.1,647.1L483.5,642.1L488.0,642.6L491.7,650.4L496.7,643.4L501.7,624.2L505.9,620.4L510.4,625.1L514.2,615.0L519.2,610.9L523.9,608.7L528.4,616.7L532.6,623.0L536.8,622.0L541.8,641.8L545.4,645.1L550.5,641.4L555.1,640.9L559.3,639.2L563.5,656.8L567.7,676.0L572.7,678.2L577.7,662.6L581.5,665.5L586.5,686.8L591.0,694.9L595.5,699.4L600.2,686.8L604.1,679.8L608.6,695.2L612.2,713.6L617.8,723.1L621.9,696.5L626.6,687.7L631.6,684.8L635.6,675.5L640.3,676.8L645.0,678.2L649.0,681.0L654.0,674.3L657.8,676.0L662.0,674.3L666.7,671.8L671.2,671.8L675.7,673.8L680.0,675.5L685.1,661.8L689.1,661.8L693.7,678.5L699.1,678.5L702.9,666.0L707.9,701.5L711.8,705.2L716.8,704.9L720.5,721.1L725.1,704.9L730.0,707.7L734.2,697.7L739.2,715.6L743.0,709.4L748.0,714.9L753.0,728.3L756.7,716.9L761.7,707.7L770.4,707.7L775.4,689.3L779.6,684.3L788.1,686.5L793.1,691.9L797.6,691.0L801.8,702.2L810.2,703.9L815.2,693.5L819.3,688.5L824.4,702.7L829.4,693.5L832.7,660.5L836.9,661.8L841.6,666.0L846.6,668.5L851.1,673.5L855.6,678.8L860.3,675.2L864.4,671.0L869.4,678.8L874.0,671.8L877.8,668.5L882.8,653.4L887.0,641.8L891.7,643.8L895.3,632.6L900.0,630.4L905.0,630.6L909.0,648.9L913.7,643.4L918.7,640.1L922.9,635.9L927.9,661.0L931.7,655.4L936.7,671.5L940.8,676.8L945.4,681.0L950.1,677.2L954.1,678.8L959.1,656.8L963.0,681.0L968.0,686.8L970.0,685.5L972.5,683.2L977.5,673.5L981.7,663.1L985.9,667.1L990.4,681.0L994.2,701.0L999.2,692.2L1004.2,695.2L1008.4,701.9L1013.1,707.7L1016.8,698.9L1021.4,701.5L1026.8,709.9L1030.5,691.5L1034.8,691.9L1039.3,696.0L1044.3,690.2L1048.8,690.5L1053.2,693.9L1057.7,689.8L1061.5,685.5L1066.5,691.5L1071.5,700.2L1075.5,702.7L1080.2,699.4L1084.4,682.7L1088.9,680.2L1093.2,680.5L1098.3,695.2L1102.8,710.6L1106.6,702.2L1112.0,706.9L1115.6,707.7L1120.3,696.5L1125.3,682.2L1129.5,678.8L1129.5,622.5L13.3,622.5z" fill="url(#ob)" clip-path="url(#above70)"/><line x1="13" y1="622.5" x2="1458" y2="622.5" stroke="#787b86" stroke-width="1" stroke-dasharray="5 5.913"/><line x1="13" y1="710.5" x2="1458" y2="710.5" stroke="#787b86" stroke-width="1" stroke-dasharray="5 5.913"/><line x1="13" y1="666.5" x2="1458" y2="666.5" stroke="#b2b5be" stroke-width="1" stroke-dasharray="5 5.913"/><path d="M13.3,670.1L16.7,662.6L20.4,668.8L25.9,653.1L30.4,655.1L34.2,671.5L38.4,673.5L43.1,672.6L48.1,687.7L53.1,687.7L56.8,678.2L61.8,681.0L65.6,684.3L70.1,674.8L74.3,703.5L78.5,713.6L83.5,734.4L87.7,735.3L92.7,738.3L96.5,719.4L101.0,720.6L106.0,724.4L110.2,726.1L115.2,726.4L119.4,713.2L124.4,708.2L129.4,682.7L132.7,671.5L137.8,668.8L141.9,670.1L146.6,662.6L151.6,673.8L156.1,670.1L160.3,657.6L164.5,659.8L167.8,668.8L172.8,691.0L177.8,691.9L182.0,676.8L187.0,678.2L191.7,673.8L195.4,679.8L200.4,675.2L205.4,679.3L208.7,689.3L213.7,688.5L217.9,691.0L222.9,685.2L227.9,687.7L231.8,678.5L236.8,698.5L241.3,702.2L245.5,701.0L250.5,692.2L254.2,712.7L258.4,708.6L263.0,699.7L267.5,700.5L271.7,699.7L276.7,691.0L281.7,690.2L285.4,686.8L290.1,689.7L294.3,686.0L299.3,686.0L304.3,683.8L308.1,688.5L312.6,674.3L316.8,667.6L321.8,664.3L326.5,667.6L330.2,651.8L335.2,643.4L339.3,647.3L344.4,644.8L348.5,648.4L353.2,652.6L357.7,671.0L361.6,681.5L366.6,676.8L370.6,634.7L375.3,650.1L380.3,677.2L384.4,677.7L388.6,676.8L392.8,681.8L397.8,676.5L402.0,681.0L406.6,683.2L411.2,676.0L415.3,665.5L420.0,667.1L425.0,660.1L429.5,658.8L433.7,660.1L437.9,655.1L442.9,648.4L447.1,648.4L451.7,661.5L456.7,654.3L460.8,650.4L465.4,650.4L470.1,647.1L474.6,645.4L479.1,647.1L483.5,642.1L488.0,642.6L491.7,650.4L496.7,643.4L501.7,624.2L505.9,620.4L510.4,625.1L514.2,615.0L519.2,610.9L523.9,608.7L528.4,616.7L532.6,623.0L536.8,622.0L541.8,641.8L545.4,645.1L550.5,641.4L555.1,640.9L559.3,639.2L563.5,656.8L567.7,676.0L572.7,678.2L577.7,662.6L581.5,665.5L586.5,686.8L591.0,694.9L595.5,699.4L600.2,686.8L604.1,679.8L608.6,695.2L612.2,713.6L617.8,723.1L621.9,696.5L626.6,687.7L631.6,684.8L635.6,675.5L640.3,676.8L645.0,678.2L649.0,681.0L654.0,674.3L657.8,676.0L662.0,674.3L666.7,671.8L671.2,671.8L675.7,673.8L680.0,675.5L685.1,661.8L689.1,661.8L693.7,678.5L699.1,678.5L702.9,666.0L707.9,701.5L711.8,705.2L716.8,704.9L720.5,721.1L725.1,704.9L730.0,707.7L734.2,697.7L739.2,715.6L743.0,709.4L748.0,714.9L753.0,728.3L756.7,716.9L761.7,707.7L770.4,707.7L775.4,689.3L779.6,684.3L788.1,686.5L793.1,691.9L797.6,691.0L801.8,702.2L810.2,703.9L815.2,693.5L819.3,688.5L824.4,702.7L829.4,693.5L832.7,660.5L836.9,661.8L841.6,666.0L846.6,668.5L851.1,673.5L855.6,678.8L860.3,675.2L864.4,671.0L869.4,678.8L874.0,671.8L877.8,668.5L882.8,653.4L887.0,641.8L891.7,643.8L895.3,632.6L900.0,630.4L905.0,630.6L909.0,648.9L913.7,643.4L918.7,640.1L922.9,635.9L927.9,661.0L931.7,655.4L936.7,671.5L940.8,676.8L945.4,681.0L950.1,677.2L954.1,678.8L959.1,656.8L963.0,681.0L968.0,686.8L970.0,685.5L972.5,683.2L977.5,673.5L981.7,663.1L985.9,667.1L990.4,681.0L994.2,701.0L999.2,692.2L1004.2,695.2L1008.4,701.9L1013.1,707.7L1016.8,698.9L1021.4,701.5L1026.8,709.9L1030.5,691.5L1034.8,691.9L1039.3,696.0L1044.3,690.2L1048.8,690.5L1053.2,693.9L1057.7,689.8L1061.5,685.5L1066.5,691.5L1071.5,700.2L1075.5,702.7L1080.2,699.4L1084.4,682.7L1088.9,680.2L1093.2,680.5L1098.3,695.2L1102.8,710.6L1106.6,702.2L1112.0,706.9L1115.6,707.7L1120.3,696.5L1125.3,682.2L1129.5,678.8" fill="none" stroke="#7e57c2" stroke-width="1.3" stroke-linejoin="round"/>
<text x="22.58" y="58.8" font-family='"Liberation Sans", sans-serif' font-size="15.2" font-weight="normal" fill="#131722" textLength="303.19" lengthAdjust="spacingAndGlyphs">Crypto Total Market Cap, $ · 4h · CRYPTOCAP</text><text x="335.19" y="58.8" font-family='"Liberation Sans", sans-serif' font-size="15.2" font-weight="normal" fill="#131722" textLength="10.56" lengthAdjust="spacingAndGlyphs">O</text><text x="344.76" y="58.8" font-family='"Liberation Sans", sans-serif' font-size="15.2" font-weight="normal" fill="#2962ff" textLength="40.89" lengthAdjust="spacingAndGlyphs">3.13T</text><text x="394.11" y="58.8" font-family='"Liberation Sans", sans-serif' font-size="15.2" font-weight="normal" fill="#131722" textLength="10.70" lengthAdjust="spacingAndGlyphs">H</text><text x="403.37" y="58.8" font-family='"Liberation Sans", sans-serif' font-size="15.2" font-weight="normal" fill="#2962ff" textLength="40.59" lengthAdjust="spacingAndGlyphs">3.17T</text><text x="452.59" y="58.8" font-family='"Liberation Sans", sans-serif' font-size="15.2" font-weight="normal" fill="#131722" textLength="9.12" lengthAdjust="spacingAndGlyphs">L</text><text x="461.18" y="58.8" font-family='"Liberation Sans", sans-serif' font-size="15.2" font-weight="normal" fill="#2962ff" textLength="39.36" lengthAdjust="spacingAndGlyphs">3.12T</text><text x="509.10" y="58.8" font-family='"Liberation Sans", sans-serif' font-size="15.2" font-weight="normal" fill="#131722" textLength="10.12" lengthAdjust="spacingAndGlyphs">C</text><text x="518.79" y="58.8" font-family='"Liberation Sans", sans-serif' font-size="15.2" font-weight="normal" fill="#2962ff" textLength="38.84" lengthAdjust="spacingAndGlyphs">3.14T</text><text x="566.77" y="58.8" font-family='"Liberation Sans", sans-serif' font-size="15.2" font-weight="normal" fill="#2962ff" textLength="118.13" lengthAdjust="spacingAndGlyphs">+10.49B (+0.34%)</text><text x="21.91" y="79.4" font-family='"Liberation Sans", sans-serif' font-size="15.2" font-weight="normal" fill="#131722" textLength="162.02" lengthAdjust="spacingAndGlyphs">Ichimoku (9, 26, 52, 26)</text><text x="192.77" y="79.4" font-family='"Liberation Sans", sans-serif' font-size="15.2" font-weight="normal" fill="#9ccf9f" textLength="40.07" lengthAdjust="spacingAndGlyphs">3.13T</text><text x="241.67" y="79.4" font-family='"Liberation Sans", sans-serif' font-size="15.2" font-weight="normal" fill="#f09595" textLength="31.46" lengthAdjust="spacingAndGlyphs">3.3T</text><text x="22.23" y="617.5" font-family='"Liberation Sans", sans-serif' font-size="15.2" font-weight="normal" fill="#131722" textLength="96.39" lengthAdjust="spacingAndGlyphs">RSI (14, close)</text><text x="127.40" y="617.5" font-family='"Liberation Sans", sans-serif' font-size="15.2" font-weight="normal" fill="#7e57c2" textLength="37.59" lengthAdjust="spacingAndGlyphs">44.14</text>
<text x="1469.52" y="92.8" font-family='"Liberation Sans", sans-serif' font-size="18.2" font-weight="normal" fill="#131722" textLength="38.06" lengthAdjust="spacingAndGlyphs">4.2T</text><text x="1470.52" y="170.8" font-family='"Liberation Sans", sans-serif' font-size="18.2" font-weight="normal" fill="#131722" textLength="22.20" lengthAdjust="spacingAndGlyphs">4T</text><text x="1470.14" y="248.8" font-family='"Liberation Sans", sans-serif' font-size="18.2" font-weight="normal" fill="#131722" textLength="38.06" lengthAdjust="spacingAndGlyphs">3.8T</text><text x="1470.14" y="326.8" font-family='"Liberation Sans", sans-serif' font-size="18.2" font-weight="normal" fill="#131722" textLength="38.06" lengthAdjust="spacingAndGlyphs">3.6T</text><text x="1470.14" y="404.8" font-family='"Liberation Sans", sans-serif' font-size="18.2" font-weight="normal" fill="#131722" textLength="38.06" lengthAdjust="spacingAndGlyphs">3.4T</text><text x="1470.14" y="482.8" font-family='"Liberation Sans", sans-serif' font-size="18.2" font-weight="normal" fill="#131722" textLength="38.06" lengthAdjust="spacingAndGlyphs">3.2T</text><text x="1470.14" y="560.8" font-family='"Liberation Sans", sans-serif' font-size="18.2" font-weight="normal" fill="#131722" textLength="22.20" lengthAdjust="spacingAndGlyphs">3T</text><text x="1469.90" y="605.7" font-family='"Liberation Sans", sans-serif' font-size="18.2" font-weight="normal" fill="#131722" textLength="44.36" lengthAdjust="spacingAndGlyphs">80.00</text><text x="1469.81" y="650.1" font-family='"Liberation Sans", sans-serif' font-size="18.2" font-weight="normal" fill="#131722" textLength="44.45" lengthAdjust="spacingAndGlyphs">60.00</text><text x="1470.35" y="694.5" font-family='"Liberation Sans", sans-serif' font-size="18.2" font-weight="normal" fill="#131722" textLength="43.91" lengthAdjust="spacingAndGlyphs">40.00</text><text x="1469.81" y="738.9" font-family='"Liberation Sans", sans-serif' font-size="18.2" font-weight="normal" fill="#131722" textLength="44.45" lengthAdjust="spacingAndGlyphs">20.00</text><path d="M1459.2,401.9H1512.3Q1514.8,401.9 1514.8,404.4V423.1Q1514.8,425.6 1512.3,425.6H1459.2Z" fill="#ef9a9a"/><text x="1470.75" y="421" font-family='"Liberation Sans", sans-serif' font-size="18.2" font-weight="normal" fill="#131722" textLength="37.44" lengthAdjust="spacingAndGlyphs" stroke="#131722" stroke-width="0.25">3.3T</text><path d="M1459.2,426.4H1512.3Q1514.8,426.4 1514.8,428.9V448.0Q1514.8,450.5 1512.3,450.5H1459.2Z" fill="#673ab7"/><text x="1470.75" y="444.9" font-family='"Liberation Sans", sans-serif' font-size="18.2" font-weight="normal" fill="#ffffff" textLength="37.44" lengthAdjust="spacingAndGlyphs" stroke="#ffffff" stroke-width="0.5">3.3T</text><path d="M1459.2,533.4H1521.8Q1524.3,533.4 1524.3,535.9V555.4Q1524.3,557.9 1521.8,557.9H1459.2Z" fill="#a5d6a7"/><text x="1470.78" y="551.5" font-family='"Liberation Sans", sans-serif' font-size="18.2" font-weight="normal" fill="#131722" textLength="46.22" lengthAdjust="spacingAndGlyphs" stroke="#131722" stroke-width="0.25">3.13T</text><path d="M1459.2,488.2H1543.6Q1546.1,488.2 1546.1,490.7V530.3Q1546.1,532.8 1543.6,532.8H1459.2Z" fill="#2962ff"/><text x="1471.16" y="506.6" font-family='"Liberation Sans", sans-serif' font-size="18.2" font-weight="normal" fill="#ffffff" textLength="47.25" lengthAdjust="spacingAndGlyphs" stroke="#ffffff" stroke-width="0.5">3.14T</text><text x="1470.18" y="526.7" font-family='"Liberation Sans", sans-serif' font-size="18.2" font-weight="normal" fill="#c9d6fb" textLength="69.70" lengthAdjust="spacingAndGlyphs" stroke="#c9d6fb" stroke-width="0.4">02:08:24</text><path d="M1400.3,488.2H1457.8V512.7H1400.3Q1398.1,512.7 1398.1,510.5V490.4Q1398.1,488.2 1400.3,488.2Z" fill="#2962ff"/><text x="1402.78" y="506.6" font-family='"Liberation Sans", sans-serif' font-size="18.2" font-weight="normal" fill="#ffffff" textLength="50.41" lengthAdjust="spacingAndGlyphs" stroke="#ffffff" stroke-width="0.5">TOTAL</text><path d="M1459,667.5H1518.2Q1520.7,667.5 1520.7,670.0V689.5Q1520.7,692 1518.2,692H1459Z" fill="#7e57c2"/><text x="1470.94" y="685.8" font-family='"Liberation Sans", sans-serif' font-size="18.2" font-weight="normal" fill="#ffffff" textLength="44.43" lengthAdjust="spacingAndGlyphs" stroke="#ffffff" stroke-width="0.5">44.14</text>
<text x="56.87" y="778.7" font-family='"Liberation Sans", sans-serif' font-size="18.2" font-weight="normal" fill="#131722" textLength="18.83" lengthAdjust="spacingAndGlyphs">10</text><text x="137.41" y="778.7" font-family='"Liberation Sans", sans-serif' font-size="18.2" font-weight="normal" fill="#131722" textLength="18.83" lengthAdjust="spacingAndGlyphs">13</text><text x="218.11" y="778.7" font-family='"Liberation Sans", sans-serif' font-size="18.2" font-weight="normal" fill="#131722" textLength="18.83" lengthAdjust="spacingAndGlyphs">16</text><text x="298.65" y="778.7" font-family='"Liberation Sans", sans-serif' font-size="18.2" font-weight="normal" fill="#131722" textLength="18.83" lengthAdjust="spacingAndGlyphs">19</text><text x="379.61" y="778.7" font-family='"Liberation Sans", sans-serif' font-size="18.2" font-weight="normal" fill="#131722" textLength="18.83" lengthAdjust="spacingAndGlyphs">22</text><text x="460.22" y="778.7" font-family='"Liberation Sans", sans-serif' font-size="18.2" font-weight="normal" fill="#131722" textLength="18.83" lengthAdjust="spacingAndGlyphs">25</text><text x="541.12" y="778.7" font-family='"Liberation Sans", sans-serif' font-size="18.2" font-weight="normal" fill="#131722" textLength="18.83" lengthAdjust="spacingAndGlyphs">28</text><text x="738.99" y="778.7" font-family='"Liberation Sans", sans-serif' font-size="18.2" font-weight="normal" fill="#131722" textLength="9.41" lengthAdjust="spacingAndGlyphs">4</text><text x="819.20" y="778.7" font-family='"Liberation Sans", sans-serif' font-size="18.2" font-weight="normal" fill="#131722" textLength="9.41" lengthAdjust="spacingAndGlyphs">7</text><text x="895.77" y="778.7" font-family='"Liberation Sans", sans-serif' font-size="18.2" font-weight="normal" fill="#131722" textLength="18.83" lengthAdjust="spacingAndGlyphs">10</text><text x="976.41" y="778.7" font-family='"Liberation Sans", sans-serif' font-size="18.2" font-weight="normal" fill="#131722" textLength="18.83" lengthAdjust="spacingAndGlyphs">13</text><text x="1057.21" y="778.7" font-family='"Liberation Sans", sans-serif' font-size="18.2" font-weight="normal" fill="#131722" textLength="18.83" lengthAdjust="spacingAndGlyphs">16</text><text x="1138.25" y="778.7" font-family='"Liberation Sans", sans-serif' font-size="18.2" font-weight="normal" fill="#131722" textLength="18.83" lengthAdjust="spacingAndGlyphs">19</text><text x="1218.91" y="778.7" font-family='"Liberation Sans", sans-serif' font-size="18.2" font-weight="normal" fill="#131722" textLength="18.83" lengthAdjust="spacingAndGlyphs">22</text><text x="1299.52" y="778.7" font-family='"Liberation Sans", sans-serif' font-size="18.2" font-weight="normal" fill="#131722" textLength="18.83" lengthAdjust="spacingAndGlyphs">25</text><text x="1380.12" y="778.7" font-family='"Liberation Sans", sans-serif' font-size="18.2" font-weight="normal" fill="#131722" textLength="18.83" lengthAdjust="spacingAndGlyphs">28</text><text x="642.43" y="778.7" font-family='"Liberation Sans", sans-serif' font-size="18.2" font-weight="bold" fill="#131722" textLength="31.04" lengthAdjust="spacingAndGlyphs">Nov</text>
<g fill="#131313"><path d="M15.6,820.2H30.3V839H23V827.5H15.6Z"/><circle cx="37" cy="824" r="3.9"/><path d="M44.4,820.2H52.9L45.8,839H37.1Z"/></g><text x="61.74" y="839" font-family='"Liberation Sans", sans-serif' font-size="27.6" font-weight="bold" fill="#131313" textLength="151.19" lengthAdjust="spacingAndGlyphs">TradingView</text>
</svg>
</body></html>
